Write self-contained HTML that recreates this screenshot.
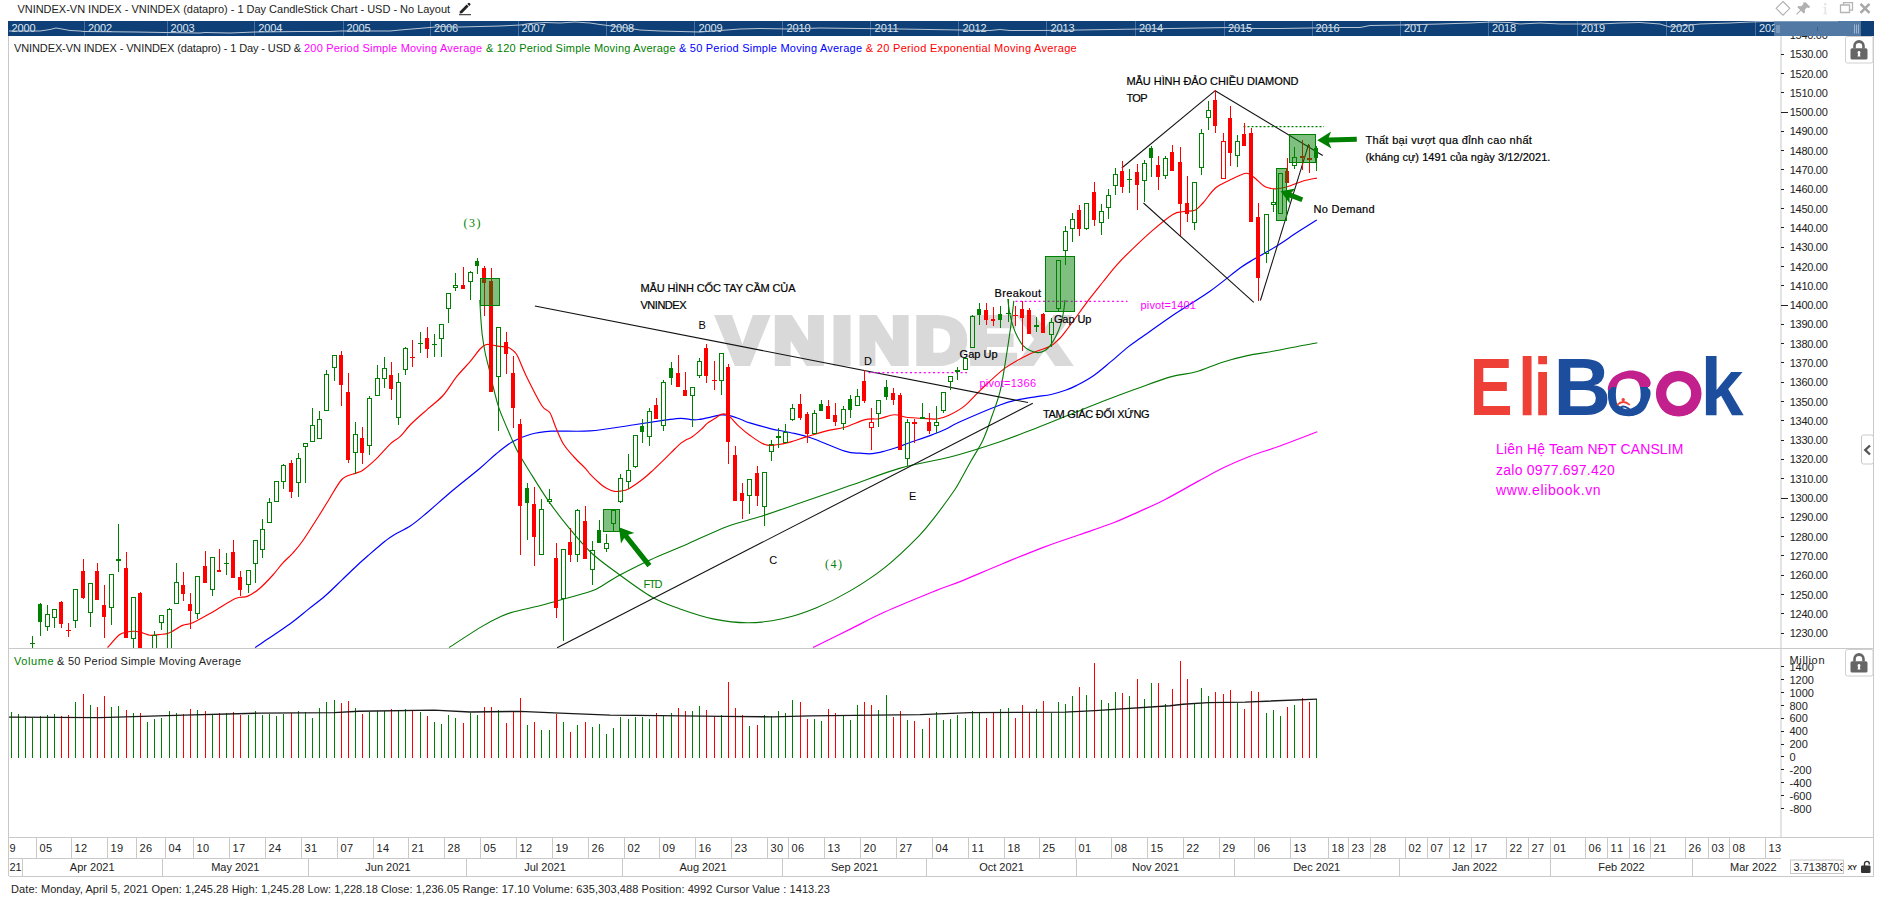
<!DOCTYPE html><html><head><meta charset="utf-8"><title>VNINDEX</title><style>html,body{margin:0;padding:0;background:#fff;overflow:hidden}svg{display:block}</style></head><body><svg width="1877" height="903" viewBox="0 0 1877 903" font-family='"Liberation Sans", sans-serif' font-size="11">
<defs><clipPath id="cp"><rect x="9.5" y="37" width="1771" height="611"/></clipPath><linearGradient id="og" gradientUnits="userSpaceOnUse" x1="0" y1="370" x2="0" y2="417"><stop offset="0.36" stop-color="#c2208c"/><stop offset="0.36" stop-color="#1c4e9d"/></linearGradient><clipPath id="cv"><rect x="9.5" y="649" width="1771" height="188"/></clipPath></defs>
<rect width="1877" height="903" fill="#fff"/>
<text x="17.4" y="13.3" fill="#222" textLength="432.7" lengthAdjust="spacing">VNINDEX-VN INDEX - VNINDEX (datapro) - 1 Day CandleStick Chart - USD - No Layout</text>
<g transform="translate(459,2)" fill="#222"><path d="M1 9.2 L7.6 2.6 L9.6 4.6 L3 11.2 L0.6 11.6 Z"/><path d="M8.3 1.9 L9.3 0.9 Q9.9 0.4 10.5 0.9 L11.3 1.7 Q11.8 2.3 11.3 2.9 L10.3 3.9 Z"/><rect x="0" y="12.2" width="12" height="1"/></g>
<g fill="none" stroke="#b4b4b4" stroke-width="1.2">
<path d="M1783 1.5 L1789.8 8.3 L1783 15.1 L1776.2 8.3 Z"/>
<path d="M1840.5 5 h9 v7.5 h-9z M1843.5 5 v-2.3 h9 v7.5 h-3" stroke-width="1.3"/>
<path d="M1860.5 3.8 L1869.5 12.8 M1869.5 3.8 L1860.5 12.8" stroke-width="2.6" stroke="#a8a8a8"/>
</g>
<g fill="#b0b0b0"><path d="M1805.5 2.2 L1810.3 7 L1808.6 7.9 L1806.9 7.6 L1804.8 9.7 L1805 12.6 L1803.8 13.6 L1801 10.8 L1797 14.8 L1796.2 14 L1800.2 10 L1797.4 7.2 L1798.4 6 L1801.3 6.2 L1803.4 4.1 L1803.1 2.4 Z"/></g>
<g fill="#e4e4e4"><circle cx="1825.3" cy="4.2" r="1.3"/><path d="M1823.5 7 h2.6 v6.2 h1 v1 h-3.8 v-1 h1.2 v-5.2 h-1z"/></g>
<rect x="8" y="21" width="1866" height="15" fill="#0e3f76"/>
<rect x="1774" y="21" width="87" height="15" fill="#5179a3"/>
<rect x="1774" y="21" width="64" height="1" fill="#7d9cbd"/>
<rect x="84" y="21" width="1" height="15" fill="#4a6f9b"/>
<rect x="167" y="21" width="1" height="15" fill="#4a6f9b"/>
<rect x="254" y="21" width="1" height="15" fill="#4a6f9b"/>
<rect x="343" y="21" width="1" height="15" fill="#4a6f9b"/>
<rect x="430" y="21" width="1" height="15" fill="#4a6f9b"/>
<rect x="518" y="21" width="1" height="15" fill="#4a6f9b"/>
<rect x="606" y="21" width="1" height="15" fill="#4a6f9b"/>
<rect x="694" y="21" width="1" height="15" fill="#4a6f9b"/>
<rect x="782" y="21" width="1" height="15" fill="#4a6f9b"/>
<rect x="870" y="21" width="1" height="15" fill="#4a6f9b"/>
<rect x="958" y="21" width="1" height="15" fill="#4a6f9b"/>
<rect x="1046" y="21" width="1" height="15" fill="#4a6f9b"/>
<rect x="1135" y="21" width="1" height="15" fill="#4a6f9b"/>
<rect x="1224" y="21" width="1" height="15" fill="#4a6f9b"/>
<rect x="1312" y="21" width="1" height="15" fill="#4a6f9b"/>
<rect x="1400" y="21" width="1" height="15" fill="#4a6f9b"/>
<rect x="1488" y="21" width="1" height="15" fill="#4a6f9b"/>
<rect x="1577" y="21" width="1" height="15" fill="#4a6f9b"/>
<rect x="1666" y="21" width="1" height="15" fill="#4a6f9b"/>
<rect x="1755" y="21" width="1" height="15" fill="#4a6f9b"/>
<text x="11.5" y="31.9" fill="#dfe7f0" textLength="24.0" lengthAdjust="spacing">2000</text>
<text x="88.0" y="31.9" fill="#dfe7f0" textLength="24.0" lengthAdjust="spacing">2002</text>
<text x="170.5" y="31.9" fill="#dfe7f0" textLength="24.0" lengthAdjust="spacing">2003</text>
<text x="258.3" y="31.9" fill="#dfe7f0" textLength="24.0" lengthAdjust="spacing">2004</text>
<text x="346.5" y="31.9" fill="#dfe7f0" textLength="24.0" lengthAdjust="spacing">2005</text>
<text x="434.0" y="31.9" fill="#dfe7f0" textLength="24.0" lengthAdjust="spacing">2006</text>
<text x="521.5" y="31.9" fill="#dfe7f0" textLength="24.0" lengthAdjust="spacing">2007</text>
<text x="610.0" y="31.9" fill="#dfe7f0" textLength="24.0" lengthAdjust="spacing">2008</text>
<text x="698.5" y="31.9" fill="#dfe7f0" textLength="24.0" lengthAdjust="spacing">2009</text>
<text x="786.5" y="31.9" fill="#dfe7f0" textLength="24.0" lengthAdjust="spacing">2010</text>
<text x="874.5" y="31.9" fill="#dfe7f0" textLength="24.0" lengthAdjust="spacing">2011</text>
<text x="962.5" y="31.9" fill="#dfe7f0" textLength="24.0" lengthAdjust="spacing">2012</text>
<text x="1050.5" y="31.9" fill="#dfe7f0" textLength="24.0" lengthAdjust="spacing">2013</text>
<text x="1139.0" y="31.9" fill="#dfe7f0" textLength="24.0" lengthAdjust="spacing">2014</text>
<text x="1228.0" y="31.9" fill="#dfe7f0" textLength="24.0" lengthAdjust="spacing">2015</text>
<text x="1315.6" y="31.9" fill="#dfe7f0" textLength="24.0" lengthAdjust="spacing">2016</text>
<text x="1404.0" y="31.9" fill="#dfe7f0" textLength="24.0" lengthAdjust="spacing">2017</text>
<text x="1492.0" y="31.9" fill="#dfe7f0" textLength="24.0" lengthAdjust="spacing">2018</text>
<text x="1581.0" y="31.9" fill="#dfe7f0" textLength="24.0" lengthAdjust="spacing">2019</text>
<text x="1670.0" y="31.9" fill="#dfe7f0" textLength="24.0" lengthAdjust="spacing">2020</text>
<clipPath id="c21"><rect x="1750" y="21" width="24.5" height="15"/></clipPath>
<text x="1759.0" y="31.9" fill="#dfe7f0" textLength="24.0" lengthAdjust="spacing" clip-path="url(#c21)">2021</text>
<polyline fill="none" stroke="#b9c6d6" stroke-width="1" points="9,31 40,31 50,29.5 56,28 62,29 70,30.5 80,31 84,31.5 135,32 165,32.5 200,33 205,32.5 230,33 255,32 300,31.5 330,31.5 340,31 390,31 400,30 430,27.5 440,26.5 460,27 480,26.5 500,26 520,25 530,23.5 545,22.5 560,23 575,22 590,23 600,24.5 620,27 640,30 660,31 700,32 720,30.5 740,29 760,28.5 790,29 820,28 860,28.5 900,29 930,29.5 960,30 990,30.5 1000,29.5 1010,30.5 1040,30.5 1080,30 1140,29 1170,28.5 1200,28 1230,27.5 1250,28.5 1280,28.5 1310,28 1340,27.5 1360,27.5 1370,25.5 1400,25 1440,24 1470,23 1490,22 1510,22.5 1520,24 1540,23 1560,24 1600,24 1620,23 1640,22.5 1660,24 1670,27 1680,26 1700,24 1730,23 1750,22 1765,21.5 1774,21.5"/>
<rect x="1776.5" y="25" width="1" height="8" fill="#9fb6ce"/>
<rect x="1778.5" y="25" width="1" height="8" fill="#9fb6ce"/>
<rect x="1854" y="24.5" width="1" height="9" fill="#9fb6ce"/>
<rect x="1856" y="24.5" width="1" height="9" fill="#9fb6ce"/>
<rect x="1858" y="24.5" width="1" height="9" fill="#9fb6ce"/>
<rect x="1817" y="27" width="1" height="4" fill="#3b5f8a"/>
<g fill="#c9c9c9">
<rect x="8" y="36" width="1" height="840"/>
<rect x="1873" y="36" width="1" height="840"/>
<rect x="9" y="648" width="1865" height="1"/>
<rect x="9" y="837" width="1865" height="1"/>
<rect x="9" y="858" width="1772" height="1"/>
<rect x="9" y="876" width="1865" height="1"/>
<rect x="1780.5" y="36" width="1" height="801"/>
</g>
<text x="14.0" y="51.7" fill="#222" textLength="287.0" lengthAdjust="spacing">VNINDEX-VN INDEX - VNINDEX (datapro) - 1 Day - USD &amp;</text>
<text x="304.0" y="51.7" fill="#ff00ff" textLength="178.0" lengthAdjust="spacing">200 Period Simple Moving Average</text>
<text x="486.0" y="51.7" fill="#008000" textLength="189.5" lengthAdjust="spacing">&amp; 120 Period Simple Moving Average</text>
<text x="679.0" y="51.7" fill="#0000ff" textLength="183.0" lengthAdjust="spacing">&amp; 50 Period Simple Moving Average</text>
<text x="865.8" y="51.7" fill="#ff0000" textLength="210.9" lengthAdjust="spacing">&amp; 20 Period Exponential Moving Average</text>
<text transform="translate(0,362.6) scale(1.127,1)" x="637.4 686.1 738.2 761.4 811.6 859.4 905.2" y="0" fill="#d9d9d9" stroke="#d9d9d9" stroke-width="5.8" stroke-linejoin="miter" font-size="64.2" font-weight="bold">VNINDEX</text>
<g clip-path="url(#cp)">
<path d="M813.0 647.5C819.4 644.4 839.3 634.5 851.3 628.6C863.2 622.7 870.6 618.3 884.7 612.0C898.8 605.7 923.4 595.7 935.9 590.6C948.4 585.5 948.9 586.1 960.0 581.6C971.1 577.1 988.4 569.5 1002.6 563.7C1016.8 557.9 1032.5 551.4 1045.3 546.6C1058.1 541.8 1068.0 538.7 1079.4 534.7C1090.8 530.7 1103.5 526.6 1113.5 522.7C1123.5 518.9 1130.6 515.4 1139.1 511.6C1147.6 507.8 1154.8 504.8 1164.7 499.7C1174.7 494.6 1188.8 486.3 1198.8 480.9C1208.8 475.5 1215.9 471.4 1224.4 467.3C1232.9 463.2 1240.7 459.8 1250.0 456.2C1259.3 452.6 1268.8 450.1 1280.0 446.0C1291.2 441.9 1311.1 434.2 1317.3 431.8" fill="none" stroke="#ff00ff" stroke-width="1.2"/>
<path d="M449.2 647.5C454.3 644.2 471.4 632.8 480.0 627.6C488.6 622.4 495.1 619.1 500.8 616.5C506.5 613.9 507.5 613.5 514.0 611.7C520.5 609.9 532.6 607.6 539.7 605.8C546.8 604.0 548.3 603.4 556.8 601.0C565.3 598.6 582.9 594.1 590.9 591.3C598.9 588.5 600.2 586.7 605.0 584.0C609.8 581.3 612.3 579.0 619.9 575.0C627.5 571.0 639.8 564.7 650.6 559.7C661.4 554.7 671.9 550.8 684.7 545.2C697.5 539.7 714.5 531.2 727.3 526.4C740.1 521.6 749.4 520.1 761.5 516.2C773.6 512.3 785.2 508.0 800.0 502.9C814.8 497.8 833.3 491.4 850.0 485.6C866.7 479.8 883.5 472.9 900.2 468.1C916.9 463.3 933.6 461.4 950.2 457.0C966.8 452.6 986.0 446.4 1000.0 441.7C1014.0 437.0 1022.7 433.3 1034.1 428.9C1045.5 424.5 1056.8 419.9 1068.2 415.3C1079.6 410.8 1090.9 406.0 1102.3 401.6C1113.7 397.2 1125.1 392.9 1136.5 388.8C1147.9 384.7 1160.6 379.7 1170.6 376.9C1180.5 374.1 1187.7 374.2 1196.2 371.8C1204.7 369.4 1213.2 365.1 1221.7 362.4C1230.2 359.7 1238.8 357.5 1247.3 355.6C1255.8 353.8 1264.4 352.9 1272.9 351.3C1281.4 349.7 1291.1 347.6 1298.5 346.2C1305.9 344.8 1314.2 343.4 1317.3 342.8" fill="none" stroke="#057805" stroke-width="1.1"/>
<path d="M255.0 647.5C255.9 646.9 254.5 648.1 260.5 644.0C266.5 639.9 283.2 628.8 291.2 623.0C299.1 617.2 302.5 613.9 308.2 609.4C313.9 604.9 319.6 600.8 325.3 595.8C331.0 590.8 336.6 585.0 342.3 579.6C348.0 574.2 355.1 567.3 359.4 563.3C363.7 559.3 363.6 559.4 367.9 555.7C372.2 552.0 380.7 544.6 385.0 541.2C389.3 537.8 389.2 537.8 393.5 535.2C397.8 532.6 404.9 529.6 410.6 525.8C416.3 522.0 420.5 518.2 427.6 512.2C434.7 506.2 444.5 497.3 453.2 490.0C461.9 482.7 472.9 474.2 480.0 468.2C487.1 462.2 490.6 458.4 496.0 454.0C501.4 449.6 506.7 445.1 512.4 441.8C518.1 438.6 523.5 436.3 530.0 434.5C536.5 432.7 541.6 431.8 551.6 431.2C561.6 430.6 576.5 431.9 590.0 430.9C603.5 429.9 620.2 426.8 632.6 425.0C645.0 423.2 656.6 421.3 664.6 420.2C672.6 419.1 676.0 418.4 680.6 418.3C685.2 418.2 689.3 419.5 692.3 419.7C695.3 419.9 695.8 419.9 698.7 419.5C701.7 419.1 706.3 418.1 710.0 417.3C713.7 416.5 717.6 415.1 721.1 414.9C724.6 414.6 727.4 415.0 730.7 415.8C734.0 416.6 737.9 418.3 741.1 419.5C744.3 420.7 744.8 421.3 749.8 422.9C754.8 424.4 764.4 427.2 771.1 428.8C777.8 430.4 783.4 431.0 790.0 432.5C796.6 434.0 801.5 434.7 810.6 437.8C819.7 440.9 836.5 448.5 844.7 451.1C852.9 453.7 855.5 452.8 860.0 453.2C864.5 453.6 867.8 454.1 872.0 453.7C876.2 453.3 881.0 452.0 885.0 451.0C889.0 450.0 891.7 449.2 895.9 447.8C900.1 446.4 904.3 444.5 910.0 442.5C915.7 440.5 924.2 437.8 930.0 435.6C935.8 433.4 940.0 431.8 945.0 429.5C950.0 427.2 950.8 425.9 960.0 421.8C969.2 417.7 990.5 408.6 1000.0 405.0C1009.5 401.4 1011.1 401.4 1017.0 400.0C1022.9 398.6 1029.7 397.7 1035.4 396.8C1041.1 395.9 1046.2 395.6 1051.2 394.5C1056.2 393.4 1061.1 391.8 1065.4 390.3C1069.7 388.8 1072.1 387.9 1076.8 385.4C1081.5 382.9 1088.1 379.4 1093.8 375.4C1099.5 371.4 1105.2 366.3 1110.9 361.6C1116.6 356.9 1122.8 351.2 1127.9 347.1C1133.0 343.0 1133.7 342.8 1141.7 337.2C1149.7 331.6 1164.5 321.0 1175.9 313.3C1187.3 305.6 1199.3 298.7 1210.0 291.2C1220.7 283.7 1232.5 273.5 1240.0 268.1C1247.5 262.7 1248.5 262.5 1254.7 258.8C1260.9 255.1 1269.8 250.4 1276.9 246.0C1284.0 241.6 1290.7 236.6 1297.3 232.3C1303.9 228.0 1313.5 222.1 1316.8 220.0" fill="none" stroke="#0000ff" stroke-width="1.2"/>
<path d="M107.5 647.5C109.5 645.4 116.2 637.4 119.4 634.8C122.7 632.2 124.4 632.6 127.0 632.0C129.6 631.4 132.1 631.1 134.8 631.3C137.5 631.5 140.4 632.3 143.0 633.0C145.6 633.7 147.3 635.0 150.1 635.3C152.9 635.5 156.9 634.9 160.0 634.5C163.1 634.1 165.2 634.5 168.9 633.0C172.7 631.5 178.5 627.1 182.5 625.4C186.5 623.7 187.7 625.1 192.8 622.8C197.9 620.5 206.1 615.7 213.2 611.7C220.3 607.7 229.7 601.2 235.4 598.6C241.1 596.0 243.3 598.0 247.3 596.4C251.3 594.8 255.0 592.3 259.3 588.7C263.6 585.1 269.0 579.3 272.9 575.0C276.8 570.7 279.3 566.8 282.7 563.1C286.1 559.4 289.6 556.6 293.0 552.8C296.4 548.9 298.8 546.5 303.3 540.0C307.8 533.5 315.8 520.7 320.0 514.0C324.2 507.3 325.0 505.8 328.7 500.0C332.4 494.2 337.8 483.5 342.3 479.0C346.9 474.5 352.6 474.6 356.0 473.1C359.4 471.6 359.4 472.6 362.8 470.2C366.2 467.8 371.9 463.0 376.5 458.6C381.1 454.2 386.1 447.8 390.1 444.1C394.1 440.4 396.9 439.7 400.3 436.4C403.7 433.1 406.1 429.1 410.6 424.5C415.2 419.9 422.2 413.9 427.6 409.1C433.0 404.3 438.2 400.9 443.0 395.5C447.8 390.1 452.1 382.4 456.6 376.7C461.2 371.0 466.4 366.0 470.3 361.4C474.2 356.8 477.4 351.8 480.0 349.0C482.6 346.2 483.8 345.4 485.8 344.7C487.8 344.0 489.7 344.7 492.0 345.0C494.3 345.3 497.0 346.1 499.4 346.4C501.8 346.7 504.2 346.5 506.1 346.9C508.0 347.3 509.6 348.1 511.0 349.0C512.4 349.9 513.4 350.7 514.6 352.0C515.8 353.3 516.0 352.9 518.0 357.0C520.0 361.1 522.6 368.6 526.6 376.7C530.6 384.8 538.0 399.7 541.9 405.7C545.8 411.7 547.5 409.1 549.9 412.8C552.2 416.5 553.7 422.8 556.0 428.0C558.3 433.2 560.6 439.5 563.6 444.3C566.6 449.1 570.3 452.9 574.0 457.0C577.7 461.1 583.1 465.9 585.8 468.8C588.5 471.7 587.5 471.5 590.0 474.1C592.5 476.7 597.9 481.8 600.7 484.2C603.5 486.6 604.7 487.3 607.0 488.5C609.3 489.7 612.2 491.0 614.5 491.4C616.8 491.8 618.7 491.4 621.0 491.0C623.3 490.6 624.7 491.0 628.4 489.0C632.1 487.0 639.0 482.1 643.3 478.8C647.5 475.5 650.3 472.6 653.9 469.3C657.5 466.0 661.0 462.6 664.6 459.1C668.2 455.6 672.4 451.2 675.2 448.5C678.0 445.8 679.8 444.0 681.6 442.6C683.4 441.2 684.1 441.0 685.9 440.0C687.7 439.0 689.6 438.7 692.3 436.8C695.0 434.9 699.4 431.0 701.9 428.8C704.4 426.6 705.1 425.1 707.2 423.4C709.3 421.7 712.4 420.1 714.7 418.6C717.0 417.1 719.2 415.1 721.1 414.4C723.0 413.7 724.3 413.7 725.9 414.2C727.5 414.7 728.5 415.5 730.7 417.6C732.9 419.7 736.0 423.7 739.2 426.6C742.4 429.5 745.5 432.2 749.8 435.2C754.0 438.2 760.2 442.9 764.7 444.5C769.2 446.1 772.3 445.2 776.5 444.8C780.7 444.4 784.9 443.5 790.0 442.1C795.1 440.7 800.9 438.5 807.2 436.6C813.5 434.7 821.4 432.2 827.6 430.6C833.9 429.0 838.4 429.0 844.7 427.2C851.0 425.4 859.5 421.0 865.2 419.6C870.9 418.2 874.0 419.5 878.8 418.7C883.6 417.9 889.7 415.0 894.2 414.8C898.8 414.6 901.6 416.7 906.1 417.3C910.6 417.9 916.3 417.9 921.4 418.2C926.5 418.5 932.2 419.5 936.8 419.0C941.4 418.5 944.3 417.4 949.0 415.2C953.7 413.0 959.7 409.9 965.0 405.6C970.3 401.3 974.3 395.9 981.0 389.6C987.7 383.3 997.3 373.8 1005.3 367.9C1013.3 362.0 1021.8 357.9 1029.2 354.3C1036.6 350.8 1044.8 349.0 1049.6 346.6C1054.4 344.2 1055.4 342.4 1058.0 340.0C1060.6 337.6 1059.8 338.8 1065.0 332.1C1070.2 325.4 1082.5 308.2 1088.9 299.7C1095.4 291.2 1099.2 286.7 1103.7 281.0C1108.2 275.3 1112.1 270.3 1116.2 265.6C1120.3 260.9 1122.5 258.6 1128.5 252.8C1134.5 247.0 1144.9 237.0 1152.3 230.6C1159.7 224.2 1167.5 217.6 1172.8 214.4C1178.1 211.2 1180.3 212.2 1184.0 211.5C1187.7 210.8 1191.8 211.6 1195.0 210.2C1198.2 208.8 1199.6 206.7 1203.0 203.0C1206.4 199.3 1211.0 191.8 1215.5 188.0C1220.0 184.2 1225.2 182.4 1230.0 180.0C1234.8 177.6 1241.1 174.4 1244.5 173.5C1247.9 172.6 1248.5 173.8 1250.4 174.7C1252.3 175.6 1253.9 177.2 1256.0 179.0C1258.1 180.8 1261.0 183.9 1263.2 185.4C1265.4 186.9 1267.0 187.4 1269.0 188.0C1271.0 188.6 1273.0 188.8 1275.2 188.8C1277.4 188.8 1279.7 188.4 1282.0 188.0C1284.3 187.6 1285.4 187.4 1288.8 186.3C1292.2 185.2 1297.8 182.6 1302.5 181.2C1307.2 179.8 1314.4 178.6 1316.8 178.1" fill="none" stroke="#ff0000" stroke-width="1.15"/>
<path d="M479.8 300.0C480.0 303.0 480.4 312.1 480.8 318.0C481.2 323.9 481.6 329.6 482.3 335.3C483.0 341.0 483.9 346.3 485.0 352.0C486.1 357.7 487.8 363.4 489.2 369.4C490.6 375.4 491.8 381.4 493.5 388.0C495.2 394.6 496.1 400.2 499.3 409.1C502.5 418.0 509.6 433.9 512.9 441.5C516.2 449.1 516.4 449.5 519.2 454.6C522.1 459.7 525.2 464.5 530.0 472.2C534.8 479.9 541.5 491.0 548.2 500.6C554.9 510.2 563.0 520.7 570.4 529.6C577.8 538.5 584.4 546.4 592.6 554.0C600.9 561.6 610.0 567.8 619.9 575.0C629.8 582.2 642.3 591.6 652.3 597.2C662.3 602.9 669.7 605.2 680.0 608.9C690.3 612.5 702.7 616.8 714.1 619.1C725.5 621.4 736.8 622.8 748.2 622.7C759.6 622.7 770.9 621.3 782.3 618.8C793.7 616.3 805.1 612.4 816.5 607.7C827.9 603.0 839.2 597.3 850.6 590.6C862.0 583.9 873.3 576.7 884.7 567.6C896.1 558.5 910.3 544.8 918.8 536.1C927.3 527.4 929.9 523.3 935.9 515.6C941.9 507.9 950.6 495.8 954.6 490.0C958.6 484.2 957.3 485.7 960.0 480.9C962.7 476.1 967.2 467.8 971.0 461.0C974.8 454.2 979.5 447.5 983.0 440.0C986.5 432.5 989.2 424.1 992.0 416.0C994.8 407.9 997.7 401.1 1000.0 391.7C1002.3 382.3 1004.0 370.5 1005.8 359.4C1007.6 348.3 1009.6 335.1 1010.9 325.3C1012.2 315.6 1013.3 305.0 1013.8 300.9" fill="none" stroke="#057805" stroke-width="1.1"/>
<path d="M1007.8 299.0C1008.1 301.2 1008.7 307.6 1009.5 312.0C1010.3 316.4 1011.5 321.4 1012.8 325.4C1014.0 329.4 1015.3 332.7 1017.0 336.0C1018.7 339.3 1020.6 343.0 1022.8 345.4C1025.0 347.8 1027.5 349.3 1030.0 350.5C1032.5 351.7 1035.2 352.6 1037.7 352.6C1040.2 352.6 1042.9 351.7 1045.0 350.5C1047.1 349.3 1048.6 347.8 1050.4 345.4C1052.2 343.0 1054.3 339.3 1056.0 336.0C1057.7 332.7 1059.2 329.4 1060.4 325.4C1061.7 321.4 1062.7 316.2 1063.5 312.0C1064.3 307.8 1064.8 302.0 1065.0 300.0" fill="none" stroke="#057805" stroke-width="1.1"/>
<line x1="534.9" y1="306" x2="1028.1" y2="402.6" stroke="#111" stroke-width="1.05"/>
<line x1="557.1" y1="647.8" x2="1032.8" y2="403.3" stroke="#111" stroke-width="1.05"/>
<line x1="1121.8" y1="168" x2="1215.2" y2="90.7" stroke="#111" stroke-width="1.05"/>
<line x1="1215.2" y1="90.7" x2="1322.7" y2="155.5" stroke="#111" stroke-width="1.05"/>
<line x1="1143.5" y1="203" x2="1253.8" y2="302.3" stroke="#111" stroke-width="1.05"/>
<line x1="1260.4" y1="300.5" x2="1308.7" y2="144.2" stroke="#111" stroke-width="1.05"/>
<line x1="868.6" y1="372.7" x2="967" y2="372.7" stroke="#ff00ff" stroke-width="1.2" stroke-dasharray="2 2.6"/>
<line x1="1015.5" y1="301.4" x2="1127.5" y2="301.4" stroke="#ff00ff" stroke-width="1.2" stroke-dasharray="2 2.6"/>
<line x1="1243.5" y1="126.6" x2="1324" y2="126.6" stroke="#008000" stroke-width="1.1" stroke-dasharray="2 2"/>
<g shape-rendering="crispEdges">
<rect x="32" y="636" width="1" height="18" fill="#008000"/>
<rect x="30" y="643" width="5" height="1" fill="#008000"/>
<rect x="40" y="603" width="1" height="33" fill="#008000"/>
<rect x="38" y="604" width="4" height="18" fill="#008000"/>
<rect x="47" y="605" width="1" height="9" fill="#008000"/>
<rect x="47" y="627" width="1" height="4" fill="#008000"/>
<rect x="45.5" y="614.5" width="4" height="12" fill="#fff" fill-opacity="0" stroke="#008000" stroke-width="1"/>
<rect x="54" y="609" width="1" height="0" fill="#008000"/>
<rect x="54" y="618" width="1" height="10" fill="#008000"/>
<rect x="52.5" y="609.5" width="4" height="8" fill="#fff" fill-opacity="0" stroke="#008000" stroke-width="1"/>
<rect x="61" y="601" width="1" height="27" fill="#ff0000"/>
<rect x="59" y="602" width="4" height="22" fill="#ff0000"/>
<rect x="68" y="623" width="1" height="14" fill="#ff0000"/>
<rect x="66" y="630" width="5" height="1" fill="#ff0000"/>
<rect x="75" y="589" width="1" height="0" fill="#008000"/>
<rect x="75" y="621" width="1" height="7" fill="#008000"/>
<rect x="73.5" y="589.5" width="4" height="31" fill="#fff" fill-opacity="0" stroke="#008000" stroke-width="1"/>
<rect x="83" y="559" width="1" height="40" fill="#ff0000"/>
<rect x="81" y="571" width="4" height="27" fill="#ff0000"/>
<rect x="90" y="583" width="1" height="0" fill="#008000"/>
<rect x="90" y="613" width="1" height="14" fill="#008000"/>
<rect x="88.5" y="583.5" width="4" height="29" fill="#fff" fill-opacity="0" stroke="#008000" stroke-width="1"/>
<rect x="97" y="563" width="1" height="37" fill="#ff0000"/>
<rect x="95" y="571" width="4" height="29" fill="#ff0000"/>
<rect x="104" y="585" width="1" height="53" fill="#ff0000"/>
<rect x="102" y="605" width="4" height="12" fill="#ff0000"/>
<rect x="111" y="574" width="1" height="0" fill="#008000"/>
<rect x="111" y="608" width="1" height="17" fill="#008000"/>
<rect x="109.5" y="574.5" width="4" height="33" fill="#fff" fill-opacity="0" stroke="#008000" stroke-width="1"/>
<rect x="118" y="524" width="1" height="48" fill="#008000"/>
<rect x="116" y="559" width="5" height="2" fill="#008000"/>
<rect x="126" y="552" width="1" height="86" fill="#ff0000"/>
<rect x="124" y="568" width="4" height="70" fill="#ff0000"/>
<rect x="133" y="597" width="1" height="0" fill="#008000"/>
<rect x="133" y="639" width="1" height="15" fill="#008000"/>
<rect x="131.5" y="597.5" width="4" height="41" fill="#fff" fill-opacity="0" stroke="#008000" stroke-width="1"/>
<rect x="140" y="592" width="1" height="62" fill="#ff0000"/>
<rect x="138" y="593" width="4" height="61" fill="#ff0000"/>
<rect x="154" y="631" width="1" height="4" fill="#008000"/>
<rect x="154" y="654" width="1" height="0" fill="#008000"/>
<rect x="152.5" y="635.5" width="4" height="18" fill="#fff" fill-opacity="0" stroke="#008000" stroke-width="1"/>
<rect x="161" y="615" width="1" height="0" fill="#008000"/>
<rect x="161" y="623" width="1" height="7" fill="#008000"/>
<rect x="159.5" y="615.5" width="4" height="7" fill="#fff" fill-opacity="0" stroke="#008000" stroke-width="1"/>
<rect x="169" y="608" width="1" height="1" fill="#008000"/>
<rect x="169" y="654" width="1" height="0" fill="#008000"/>
<rect x="167.5" y="609.5" width="4" height="44" fill="#fff" fill-opacity="0" stroke="#008000" stroke-width="1"/>
<rect x="176" y="563" width="1" height="19" fill="#008000"/>
<rect x="176" y="604" width="1" height="0" fill="#008000"/>
<rect x="174.5" y="582.5" width="4" height="21" fill="#fff" fill-opacity="0" stroke="#008000" stroke-width="1"/>
<rect x="183" y="572" width="1" height="29" fill="#ff0000"/>
<rect x="181" y="585" width="4" height="9" fill="#ff0000"/>
<rect x="190" y="593" width="1" height="36" fill="#ff0000"/>
<rect x="188" y="604" width="4" height="7" fill="#ff0000"/>
<rect x="197" y="576" width="1" height="0" fill="#008000"/>
<rect x="197" y="614" width="1" height="5" fill="#008000"/>
<rect x="195.5" y="576.5" width="4" height="37" fill="#fff" fill-opacity="0" stroke="#008000" stroke-width="1"/>
<rect x="205" y="551" width="1" height="32" fill="#ff0000"/>
<rect x="203" y="566" width="4" height="17" fill="#ff0000"/>
<rect x="212" y="557" width="1" height="0" fill="#008000"/>
<rect x="212" y="590" width="1" height="6" fill="#008000"/>
<rect x="210.5" y="557.5" width="4" height="32" fill="#fff" fill-opacity="0" stroke="#008000" stroke-width="1"/>
<rect x="219" y="549" width="1" height="23" fill="#ff0000"/>
<rect x="217" y="570" width="4" height="2" fill="#ff0000"/>
<rect x="226" y="553" width="1" height="22" fill="#008000"/>
<rect x="224" y="563" width="5" height="1" fill="#008000"/>
<rect x="233" y="540" width="1" height="38" fill="#ff0000"/>
<rect x="231" y="552" width="4" height="26" fill="#ff0000"/>
<rect x="240" y="571" width="1" height="25" fill="#ff0000"/>
<rect x="238" y="577" width="4" height="13" fill="#ff0000"/>
<rect x="248" y="570" width="1" height="0" fill="#008000"/>
<rect x="248" y="585" width="1" height="8" fill="#008000"/>
<rect x="246.5" y="570.5" width="4" height="14" fill="#fff" fill-opacity="0" stroke="#008000" stroke-width="1"/>
<rect x="255" y="540" width="1" height="0" fill="#008000"/>
<rect x="255" y="564" width="1" height="19" fill="#008000"/>
<rect x="253.5" y="540.5" width="4" height="23" fill="#fff" fill-opacity="0" stroke="#008000" stroke-width="1"/>
<rect x="262" y="519" width="1" height="10" fill="#008000"/>
<rect x="262" y="550" width="1" height="8" fill="#008000"/>
<rect x="260.5" y="529.5" width="4" height="20" fill="#fff" fill-opacity="0" stroke="#008000" stroke-width="1"/>
<rect x="269" y="498" width="1" height="4" fill="#008000"/>
<rect x="269" y="523" width="1" height="0" fill="#008000"/>
<rect x="267.5" y="502.5" width="4" height="20" fill="#fff" fill-opacity="0" stroke="#008000" stroke-width="1"/>
<rect x="276" y="481" width="1" height="0" fill="#008000"/>
<rect x="276" y="502" width="1" height="0" fill="#008000"/>
<rect x="274.5" y="481.5" width="4" height="20" fill="#fff" fill-opacity="0" stroke="#008000" stroke-width="1"/>
<rect x="283" y="464" width="1" height="1" fill="#008000"/>
<rect x="283" y="482" width="1" height="7" fill="#008000"/>
<rect x="281.5" y="465.5" width="4" height="16" fill="#fff" fill-opacity="0" stroke="#008000" stroke-width="1"/>
<rect x="291" y="460" width="1" height="38" fill="#ff0000"/>
<rect x="289" y="463" width="4" height="29" fill="#ff0000"/>
<rect x="298" y="453" width="1" height="5" fill="#008000"/>
<rect x="298" y="483" width="1" height="14" fill="#008000"/>
<rect x="296.5" y="458.5" width="4" height="24" fill="#fff" fill-opacity="0" stroke="#008000" stroke-width="1"/>
<rect x="305" y="443" width="1" height="0" fill="#008000"/>
<rect x="305" y="447" width="1" height="36" fill="#008000"/>
<rect x="303.5" y="443.5" width="4" height="3" fill="#fff" fill-opacity="0" stroke="#008000" stroke-width="1"/>
<rect x="312" y="408" width="1" height="17" fill="#008000"/>
<rect x="312" y="442" width="1" height="0" fill="#008000"/>
<rect x="310.5" y="425.5" width="4" height="16" fill="#fff" fill-opacity="0" stroke="#008000" stroke-width="1"/>
<rect x="319" y="411" width="1" height="8" fill="#008000"/>
<rect x="319" y="439" width="1" height="0" fill="#008000"/>
<rect x="317.5" y="419.5" width="4" height="19" fill="#fff" fill-opacity="0" stroke="#008000" stroke-width="1"/>
<rect x="326" y="370" width="1" height="4" fill="#008000"/>
<rect x="326" y="411" width="1" height="0" fill="#008000"/>
<rect x="324.5" y="374.5" width="4" height="36" fill="#fff" fill-opacity="0" stroke="#008000" stroke-width="1"/>
<rect x="334" y="355" width="1" height="0" fill="#008000"/>
<rect x="334" y="368" width="1" height="13" fill="#008000"/>
<rect x="332.5" y="355.5" width="4" height="12" fill="#fff" fill-opacity="0" stroke="#008000" stroke-width="1"/>
<rect x="341" y="351" width="1" height="55" fill="#ff0000"/>
<rect x="339" y="355" width="4" height="30" fill="#ff0000"/>
<rect x="348" y="373" width="1" height="90" fill="#ff0000"/>
<rect x="346" y="392" width="4" height="68" fill="#ff0000"/>
<rect x="355" y="422" width="1" height="12" fill="#008000"/>
<rect x="355" y="453" width="1" height="21" fill="#008000"/>
<rect x="353.5" y="434.5" width="4" height="18" fill="#fff" fill-opacity="0" stroke="#008000" stroke-width="1"/>
<rect x="362" y="427" width="1" height="37" fill="#ff0000"/>
<rect x="360" y="438" width="4" height="15" fill="#ff0000"/>
<rect x="369" y="396" width="1" height="2" fill="#008000"/>
<rect x="369" y="446" width="1" height="9" fill="#008000"/>
<rect x="367.5" y="398.5" width="4" height="47" fill="#fff" fill-opacity="0" stroke="#008000" stroke-width="1"/>
<rect x="377" y="365" width="1" height="13" fill="#008000"/>
<rect x="377" y="396" width="1" height="0" fill="#008000"/>
<rect x="375.5" y="378.5" width="4" height="17" fill="#fff" fill-opacity="0" stroke="#008000" stroke-width="1"/>
<rect x="384" y="357" width="1" height="11" fill="#008000"/>
<rect x="384" y="379" width="1" height="9" fill="#008000"/>
<rect x="382.5" y="368.5" width="4" height="10" fill="#fff" fill-opacity="0" stroke="#008000" stroke-width="1"/>
<rect x="391" y="362" width="1" height="38" fill="#ff0000"/>
<rect x="389" y="375" width="4" height="14" fill="#ff0000"/>
<rect x="398" y="373" width="1" height="9" fill="#008000"/>
<rect x="398" y="418" width="1" height="7" fill="#008000"/>
<rect x="396.5" y="382.5" width="4" height="35" fill="#fff" fill-opacity="0" stroke="#008000" stroke-width="1"/>
<rect x="405" y="347" width="1" height="1" fill="#008000"/>
<rect x="405" y="370" width="1" height="5" fill="#008000"/>
<rect x="403.5" y="348.5" width="4" height="21" fill="#fff" fill-opacity="0" stroke="#008000" stroke-width="1"/>
<rect x="412" y="340" width="1" height="27" fill="#ff0000"/>
<rect x="410" y="357" width="5" height="1" fill="#ff0000"/>
<rect x="420" y="332" width="1" height="21" fill="#008000"/>
<rect x="418" y="343" width="5" height="1" fill="#008000"/>
<rect x="427" y="327" width="1" height="31" fill="#ff0000"/>
<rect x="425" y="338" width="4" height="11" fill="#ff0000"/>
<rect x="434" y="334" width="1" height="23" fill="#008000"/>
<rect x="432" y="344" width="5" height="1" fill="#008000"/>
<rect x="441" y="324" width="1" height="0" fill="#008000"/>
<rect x="441" y="339" width="1" height="18" fill="#008000"/>
<rect x="439.5" y="324.5" width="4" height="14" fill="#fff" fill-opacity="0" stroke="#008000" stroke-width="1"/>
<rect x="448" y="293" width="1" height="0" fill="#008000"/>
<rect x="448" y="309" width="1" height="14" fill="#008000"/>
<rect x="446.5" y="293.5" width="4" height="15" fill="#fff" fill-opacity="0" stroke="#008000" stroke-width="1"/>
<rect x="455" y="273" width="1" height="12" fill="#008000"/>
<rect x="455" y="288" width="1" height="3" fill="#008000"/>
<rect x="453.5" y="285.5" width="4" height="2" fill="#fff" fill-opacity="0" stroke="#008000" stroke-width="1"/>
<rect x="463" y="267" width="1" height="22" fill="#ff0000"/>
<rect x="461" y="285" width="4" height="4" fill="#ff0000"/>
<rect x="470" y="271" width="1" height="1" fill="#008000"/>
<rect x="470" y="282" width="1" height="18" fill="#008000"/>
<rect x="468.5" y="272.5" width="4" height="9" fill="#fff" fill-opacity="0" stroke="#008000" stroke-width="1"/>
<rect x="477" y="258" width="1" height="16" fill="#008000"/>
<rect x="475" y="261" width="4" height="5" fill="#008000"/>
<rect x="484" y="266" width="1" height="50" fill="#ff0000"/>
<rect x="482" y="268" width="4" height="15" fill="#ff0000"/>
<rect x="491" y="268" width="1" height="124" fill="#ff0000"/>
<rect x="489" y="281" width="4" height="111" fill="#ff0000"/>
<rect x="498" y="327" width="1" height="0" fill="#008000"/>
<rect x="498" y="377" width="1" height="54" fill="#008000"/>
<rect x="496.5" y="327.5" width="4" height="49" fill="#fff" fill-opacity="0" stroke="#008000" stroke-width="1"/>
<rect x="506" y="332" width="1" height="42" fill="#ff0000"/>
<rect x="504" y="342" width="4" height="12" fill="#ff0000"/>
<rect x="513" y="356" width="1" height="72" fill="#ff0000"/>
<rect x="511" y="373" width="4" height="35" fill="#ff0000"/>
<rect x="520" y="419" width="1" height="136" fill="#ff0000"/>
<rect x="518" y="424" width="4" height="82" fill="#ff0000"/>
<rect x="527" y="483" width="1" height="57" fill="#008000"/>
<rect x="525" y="488" width="4" height="15" fill="#008000"/>
<rect x="534" y="487" width="1" height="79" fill="#ff0000"/>
<rect x="532" y="504" width="4" height="33" fill="#ff0000"/>
<rect x="541" y="499" width="1" height="10" fill="#008000"/>
<rect x="541" y="555" width="1" height="0" fill="#008000"/>
<rect x="539.5" y="509.5" width="4" height="45" fill="#fff" fill-opacity="0" stroke="#008000" stroke-width="1"/>
<rect x="549" y="489" width="1" height="10" fill="#008000"/>
<rect x="549" y="502" width="1" height="2" fill="#008000"/>
<rect x="547.5" y="499.5" width="4" height="2" fill="#fff" fill-opacity="0" stroke="#008000" stroke-width="1"/>
<rect x="556" y="543" width="1" height="75" fill="#ff0000"/>
<rect x="554" y="558" width="4" height="50" fill="#ff0000"/>
<rect x="563" y="549" width="1" height="0" fill="#008000"/>
<rect x="563" y="599" width="1" height="42" fill="#008000"/>
<rect x="561.5" y="549.5" width="4" height="49" fill="#fff" fill-opacity="0" stroke="#008000" stroke-width="1"/>
<rect x="570" y="528" width="1" height="34" fill="#ff0000"/>
<rect x="568" y="542" width="4" height="13" fill="#ff0000"/>
<rect x="577" y="509" width="1" height="1" fill="#008000"/>
<rect x="577" y="555" width="1" height="7" fill="#008000"/>
<rect x="575.5" y="510.5" width="4" height="44" fill="#fff" fill-opacity="0" stroke="#008000" stroke-width="1"/>
<rect x="585" y="506" width="1" height="53" fill="#ff0000"/>
<rect x="583" y="521" width="4" height="38" fill="#ff0000"/>
<rect x="592" y="541" width="1" height="9" fill="#008000"/>
<rect x="592" y="570" width="1" height="15" fill="#008000"/>
<rect x="590.5" y="550.5" width="4" height="19" fill="#fff" fill-opacity="0" stroke="#008000" stroke-width="1"/>
<rect x="599" y="520" width="1" height="23" fill="#008000"/>
<rect x="597" y="530" width="4" height="13" fill="#008000"/>
<rect x="606" y="534" width="1" height="9" fill="#008000"/>
<rect x="606" y="549" width="1" height="3" fill="#008000"/>
<rect x="604.5" y="543.5" width="4" height="5" fill="#fff" fill-opacity="0" stroke="#008000" stroke-width="1"/>
<rect x="613" y="510" width="1" height="0" fill="#008000"/>
<rect x="613" y="524" width="1" height="7" fill="#008000"/>
<rect x="611.5" y="510.5" width="4" height="13" fill="#fff" fill-opacity="0" stroke="#008000" stroke-width="1"/>
<rect x="620" y="474" width="1" height="4" fill="#008000"/>
<rect x="620" y="502" width="1" height="1" fill="#008000"/>
<rect x="618.5" y="478.5" width="4" height="23" fill="#fff" fill-opacity="0" stroke="#008000" stroke-width="1"/>
<rect x="628" y="454" width="1" height="16" fill="#008000"/>
<rect x="628" y="482" width="1" height="7" fill="#008000"/>
<rect x="626.5" y="470.5" width="4" height="11" fill="#fff" fill-opacity="0" stroke="#008000" stroke-width="1"/>
<rect x="635" y="435" width="1" height="0" fill="#008000"/>
<rect x="635" y="467" width="1" height="1" fill="#008000"/>
<rect x="633.5" y="435.5" width="4" height="31" fill="#fff" fill-opacity="0" stroke="#008000" stroke-width="1"/>
<rect x="642" y="419" width="1" height="24" fill="#008000"/>
<rect x="640" y="426" width="4" height="6" fill="#008000"/>
<rect x="649" y="408" width="1" height="3" fill="#008000"/>
<rect x="649" y="437" width="1" height="9" fill="#008000"/>
<rect x="647.5" y="411.5" width="4" height="25" fill="#fff" fill-opacity="0" stroke="#008000" stroke-width="1"/>
<rect x="656" y="398" width="1" height="21" fill="#ff0000"/>
<rect x="654" y="405" width="4" height="14" fill="#ff0000"/>
<rect x="663" y="380" width="1" height="2" fill="#008000"/>
<rect x="663" y="426" width="1" height="5" fill="#008000"/>
<rect x="661.5" y="382.5" width="4" height="43" fill="#fff" fill-opacity="0" stroke="#008000" stroke-width="1"/>
<rect x="671" y="362" width="1" height="23" fill="#008000"/>
<rect x="669" y="368" width="4" height="10" fill="#008000"/>
<rect x="678" y="355" width="1" height="32" fill="#ff0000"/>
<rect x="676" y="373" width="4" height="14" fill="#ff0000"/>
<rect x="685" y="372" width="1" height="24" fill="#ff0000"/>
<rect x="683" y="390" width="4" height="6" fill="#ff0000"/>
<rect x="692" y="387" width="1" height="0" fill="#008000"/>
<rect x="692" y="396" width="1" height="31" fill="#008000"/>
<rect x="690.5" y="387.5" width="4" height="8" fill="#fff" fill-opacity="0" stroke="#008000" stroke-width="1"/>
<rect x="699" y="358" width="1" height="3" fill="#008000"/>
<rect x="699" y="376" width="1" height="2" fill="#008000"/>
<rect x="697.5" y="361.5" width="4" height="14" fill="#fff" fill-opacity="0" stroke="#008000" stroke-width="1"/>
<rect x="706" y="344" width="1" height="39" fill="#ff0000"/>
<rect x="704" y="348" width="4" height="28" fill="#ff0000"/>
<rect x="714" y="361" width="1" height="29" fill="#ff0000"/>
<rect x="712" y="380" width="5" height="1" fill="#ff0000"/>
<rect x="721" y="353" width="1" height="0" fill="#008000"/>
<rect x="721" y="381" width="1" height="14" fill="#008000"/>
<rect x="719.5" y="353.5" width="4" height="27" fill="#fff" fill-opacity="0" stroke="#008000" stroke-width="1"/>
<rect x="728" y="364" width="1" height="100" fill="#ff0000"/>
<rect x="726" y="367" width="4" height="75" fill="#ff0000"/>
<rect x="735" y="446" width="1" height="55" fill="#ff0000"/>
<rect x="733" y="455" width="4" height="46" fill="#ff0000"/>
<rect x="742" y="483" width="1" height="36" fill="#ff0000"/>
<rect x="740" y="493" width="4" height="8" fill="#ff0000"/>
<rect x="749" y="479" width="1" height="0" fill="#008000"/>
<rect x="749" y="496" width="1" height="18" fill="#008000"/>
<rect x="747.5" y="479.5" width="4" height="16" fill="#fff" fill-opacity="0" stroke="#008000" stroke-width="1"/>
<rect x="757" y="466" width="1" height="40" fill="#ff0000"/>
<rect x="755" y="473" width="4" height="23" fill="#ff0000"/>
<rect x="764" y="472" width="1" height="0" fill="#008000"/>
<rect x="764" y="507" width="1" height="19" fill="#008000"/>
<rect x="762.5" y="472.5" width="4" height="34" fill="#fff" fill-opacity="0" stroke="#008000" stroke-width="1"/>
<rect x="771" y="440" width="1" height="4" fill="#008000"/>
<rect x="771" y="452" width="1" height="9" fill="#008000"/>
<rect x="769.5" y="444.5" width="4" height="7" fill="#fff" fill-opacity="0" stroke="#008000" stroke-width="1"/>
<rect x="778" y="428" width="1" height="20" fill="#008000"/>
<rect x="776" y="436" width="5" height="2" fill="#008000"/>
<rect x="785" y="424" width="1" height="8" fill="#008000"/>
<rect x="785" y="443" width="1" height="0" fill="#008000"/>
<rect x="783.5" y="432.5" width="4" height="10" fill="#fff" fill-opacity="0" stroke="#008000" stroke-width="1"/>
<rect x="792" y="404" width="1" height="4" fill="#008000"/>
<rect x="792" y="420" width="1" height="1" fill="#008000"/>
<rect x="790.5" y="408.5" width="4" height="11" fill="#fff" fill-opacity="0" stroke="#008000" stroke-width="1"/>
<rect x="800" y="394" width="1" height="26" fill="#ff0000"/>
<rect x="798" y="404" width="4" height="14" fill="#ff0000"/>
<rect x="807" y="412" width="1" height="31" fill="#ff0000"/>
<rect x="805" y="414" width="4" height="20" fill="#ff0000"/>
<rect x="814" y="410" width="1" height="3" fill="#008000"/>
<rect x="814" y="434" width="1" height="0" fill="#008000"/>
<rect x="812.5" y="413.5" width="4" height="20" fill="#fff" fill-opacity="0" stroke="#008000" stroke-width="1"/>
<rect x="821" y="400" width="1" height="11" fill="#008000"/>
<rect x="819" y="404" width="4" height="7" fill="#008000"/>
<rect x="828" y="400" width="1" height="19" fill="#ff0000"/>
<rect x="826" y="406" width="4" height="13" fill="#ff0000"/>
<rect x="835" y="403" width="1" height="23" fill="#ff0000"/>
<rect x="833" y="415" width="4" height="7" fill="#ff0000"/>
<rect x="843" y="406" width="1" height="3" fill="#008000"/>
<rect x="843" y="424" width="1" height="6" fill="#008000"/>
<rect x="841.5" y="409.5" width="4" height="14" fill="#fff" fill-opacity="0" stroke="#008000" stroke-width="1"/>
<rect x="850" y="395" width="1" height="23" fill="#008000"/>
<rect x="848" y="399" width="4" height="11" fill="#008000"/>
<rect x="857" y="389" width="1" height="7" fill="#008000"/>
<rect x="857" y="406" width="1" height="0" fill="#008000"/>
<rect x="855.5" y="396.5" width="4" height="9" fill="#fff" fill-opacity="0" stroke="#008000" stroke-width="1"/>
<rect x="864" y="370" width="1" height="33" fill="#ff0000"/>
<rect x="862" y="381" width="4" height="20" fill="#ff0000"/>
<rect x="871" y="408" width="1" height="14" fill="#ff0000"/>
<rect x="871" y="428" width="1" height="22" fill="#ff0000"/>
<rect x="869.5" y="422.5" width="4" height="5" fill="#fff" fill-opacity="0" stroke="#ff0000" stroke-width="1"/>
<rect x="878" y="400" width="1" height="0" fill="#008000"/>
<rect x="878" y="414" width="1" height="13" fill="#008000"/>
<rect x="876.5" y="400.5" width="4" height="13" fill="#fff" fill-opacity="0" stroke="#008000" stroke-width="1"/>
<rect x="886" y="380" width="1" height="20" fill="#008000"/>
<rect x="884" y="387" width="4" height="10" fill="#008000"/>
<rect x="893" y="388" width="1" height="17" fill="#ff0000"/>
<rect x="891" y="393" width="4" height="7" fill="#ff0000"/>
<rect x="900" y="393" width="1" height="57" fill="#ff0000"/>
<rect x="898" y="395" width="4" height="55" fill="#ff0000"/>
<rect x="907" y="419" width="1" height="3" fill="#008000"/>
<rect x="907" y="459" width="1" height="7" fill="#008000"/>
<rect x="905.5" y="422.5" width="4" height="36" fill="#fff" fill-opacity="0" stroke="#008000" stroke-width="1"/>
<rect x="914" y="419" width="1" height="24" fill="#ff0000"/>
<rect x="912" y="422" width="5" height="2" fill="#ff0000"/>
<rect x="922" y="403" width="1" height="15" fill="#008000"/>
<rect x="920" y="417" width="5" height="2" fill="#008000"/>
<rect x="929" y="413" width="1" height="21" fill="#ff0000"/>
<rect x="927" y="422" width="4" height="9" fill="#ff0000"/>
<rect x="936" y="406" width="1" height="16" fill="#008000"/>
<rect x="936" y="426" width="1" height="7" fill="#008000"/>
<rect x="934.5" y="422.5" width="4" height="3" fill="#fff" fill-opacity="0" stroke="#008000" stroke-width="1"/>
<rect x="943" y="392" width="1" height="0" fill="#008000"/>
<rect x="943" y="411" width="1" height="2" fill="#008000"/>
<rect x="941.5" y="392.5" width="4" height="18" fill="#fff" fill-opacity="0" stroke="#008000" stroke-width="1"/>
<rect x="950" y="376" width="1" height="0" fill="#008000"/>
<rect x="950" y="382" width="1" height="8" fill="#008000"/>
<rect x="948.5" y="376.5" width="4" height="5" fill="#fff" fill-opacity="0" stroke="#008000" stroke-width="1"/>
<rect x="957" y="367" width="1" height="13" fill="#008000"/>
<rect x="955" y="370" width="5" height="2" fill="#008000"/>
<rect x="965" y="358" width="1" height="0" fill="#008000"/>
<rect x="965" y="370" width="1" height="0" fill="#008000"/>
<rect x="963.5" y="358.5" width="4" height="11" fill="#fff" fill-opacity="0" stroke="#008000" stroke-width="1"/>
<rect x="972" y="315" width="1" height="1" fill="#008000"/>
<rect x="972" y="348" width="1" height="0" fill="#008000"/>
<rect x="970.5" y="316.5" width="4" height="31" fill="#fff" fill-opacity="0" stroke="#008000" stroke-width="1"/>
<rect x="979" y="303" width="1" height="22" fill="#008000"/>
<rect x="977" y="309" width="4" height="6" fill="#008000"/>
<rect x="986" y="303" width="1" height="22" fill="#ff0000"/>
<rect x="984" y="310" width="4" height="10" fill="#ff0000"/>
<rect x="993" y="307" width="1" height="19" fill="#ff0000"/>
<rect x="991" y="319" width="4" height="2" fill="#ff0000"/>
<rect x="1000" y="306" width="1" height="22" fill="#008000"/>
<rect x="998" y="314" width="4" height="6" fill="#008000"/>
<rect x="1008" y="299" width="1" height="23" fill="#008000"/>
<rect x="1006" y="313" width="5" height="1" fill="#008000"/>
<rect x="1015" y="306" width="1" height="20" fill="#ff0000"/>
<rect x="1013" y="315" width="5" height="1" fill="#ff0000"/>
<rect x="1022" y="301" width="1" height="50" fill="#ff0000"/>
<rect x="1020" y="309" width="4" height="9" fill="#ff0000"/>
<rect x="1029" y="308" width="1" height="26" fill="#ff0000"/>
<rect x="1027" y="310" width="4" height="24" fill="#ff0000"/>
<rect x="1036" y="317" width="1" height="15" fill="#008000"/>
<rect x="1034" y="325" width="5" height="2" fill="#008000"/>
<rect x="1043" y="313" width="1" height="20" fill="#ff0000"/>
<rect x="1041" y="314" width="4" height="19" fill="#ff0000"/>
<rect x="1051" y="318" width="1" height="4" fill="#008000"/>
<rect x="1051" y="335" width="1" height="12" fill="#008000"/>
<rect x="1049.5" y="322.5" width="4" height="12" fill="#fff" fill-opacity="0" stroke="#008000" stroke-width="1"/>
<rect x="1058" y="260" width="1" height="0" fill="#008000"/>
<rect x="1058" y="309" width="1" height="3" fill="#008000"/>
<rect x="1056.5" y="260.5" width="4" height="48" fill="#fff" fill-opacity="0" stroke="#008000" stroke-width="1"/>
<rect x="1065" y="226" width="1" height="5" fill="#008000"/>
<rect x="1065" y="251" width="1" height="14" fill="#008000"/>
<rect x="1063.5" y="231.5" width="4" height="19" fill="#fff" fill-opacity="0" stroke="#008000" stroke-width="1"/>
<rect x="1072" y="213" width="1" height="6" fill="#008000"/>
<rect x="1072" y="229" width="1" height="13" fill="#008000"/>
<rect x="1070.5" y="219.5" width="4" height="9" fill="#fff" fill-opacity="0" stroke="#008000" stroke-width="1"/>
<rect x="1079" y="205" width="1" height="31" fill="#ff0000"/>
<rect x="1077" y="210" width="4" height="19" fill="#ff0000"/>
<rect x="1086" y="203" width="1" height="0" fill="#008000"/>
<rect x="1086" y="229" width="1" height="1" fill="#008000"/>
<rect x="1084.5" y="203.5" width="4" height="25" fill="#fff" fill-opacity="0" stroke="#008000" stroke-width="1"/>
<rect x="1094" y="182" width="1" height="44" fill="#ff0000"/>
<rect x="1092" y="192" width="4" height="28" fill="#ff0000"/>
<rect x="1101" y="204" width="1" height="7" fill="#008000"/>
<rect x="1101" y="223" width="1" height="12" fill="#008000"/>
<rect x="1099.5" y="211.5" width="4" height="11" fill="#fff" fill-opacity="0" stroke="#008000" stroke-width="1"/>
<rect x="1108" y="189" width="1" height="6" fill="#008000"/>
<rect x="1108" y="208" width="1" height="11" fill="#008000"/>
<rect x="1106.5" y="195.5" width="4" height="12" fill="#fff" fill-opacity="0" stroke="#008000" stroke-width="1"/>
<rect x="1115" y="168" width="1" height="6" fill="#008000"/>
<rect x="1115" y="186" width="1" height="9" fill="#008000"/>
<rect x="1113.5" y="174.5" width="4" height="11" fill="#fff" fill-opacity="0" stroke="#008000" stroke-width="1"/>
<rect x="1122" y="161" width="1" height="32" fill="#ff0000"/>
<rect x="1120" y="171" width="4" height="16" fill="#ff0000"/>
<rect x="1129" y="169" width="1" height="24" fill="#008000"/>
<rect x="1127" y="179" width="5" height="1" fill="#008000"/>
<rect x="1137" y="164" width="1" height="46" fill="#ff0000"/>
<rect x="1135" y="172" width="4" height="13" fill="#ff0000"/>
<rect x="1144" y="160" width="1" height="3" fill="#008000"/>
<rect x="1144" y="181" width="1" height="21" fill="#008000"/>
<rect x="1142.5" y="163.5" width="4" height="17" fill="#fff" fill-opacity="0" stroke="#008000" stroke-width="1"/>
<rect x="1151" y="146" width="1" height="31" fill="#008000"/>
<rect x="1149" y="148" width="4" height="10" fill="#008000"/>
<rect x="1158" y="156" width="1" height="34" fill="#ff0000"/>
<rect x="1156" y="165" width="4" height="12" fill="#ff0000"/>
<rect x="1165" y="156" width="1" height="2" fill="#008000"/>
<rect x="1165" y="176" width="1" height="3" fill="#008000"/>
<rect x="1163.5" y="158.5" width="4" height="17" fill="#fff" fill-opacity="0" stroke="#008000" stroke-width="1"/>
<rect x="1172" y="145" width="1" height="26" fill="#ff0000"/>
<rect x="1170" y="152" width="4" height="19" fill="#ff0000"/>
<rect x="1180" y="147" width="1" height="89" fill="#ff0000"/>
<rect x="1178" y="162" width="4" height="42" fill="#ff0000"/>
<rect x="1187" y="176" width="1" height="46" fill="#ff0000"/>
<rect x="1185" y="203" width="4" height="11" fill="#ff0000"/>
<rect x="1194" y="182" width="1" height="0" fill="#008000"/>
<rect x="1194" y="223" width="1" height="7" fill="#008000"/>
<rect x="1192.5" y="182.5" width="4" height="40" fill="#fff" fill-opacity="0" stroke="#008000" stroke-width="1"/>
<rect x="1201" y="129" width="1" height="4" fill="#008000"/>
<rect x="1201" y="168" width="1" height="7" fill="#008000"/>
<rect x="1199.5" y="133.5" width="4" height="34" fill="#fff" fill-opacity="0" stroke="#008000" stroke-width="1"/>
<rect x="1208" y="101" width="1" height="9" fill="#008000"/>
<rect x="1208" y="118" width="1" height="12" fill="#008000"/>
<rect x="1206.5" y="110.5" width="4" height="7" fill="#fff" fill-opacity="0" stroke="#008000" stroke-width="1"/>
<rect x="1215" y="90" width="1" height="43" fill="#ff0000"/>
<rect x="1213" y="100" width="4" height="26" fill="#ff0000"/>
<rect x="1223" y="133" width="1" height="8" fill="#ff0000"/>
<rect x="1223" y="179" width="1" height="0" fill="#ff0000"/>
<rect x="1221.5" y="141.5" width="4" height="37" fill="#fff" fill-opacity="0" stroke="#ff0000" stroke-width="1"/>
<rect x="1230" y="106" width="1" height="60" fill="#ff0000"/>
<rect x="1228" y="118" width="4" height="35" fill="#ff0000"/>
<rect x="1237" y="135" width="1" height="6" fill="#008000"/>
<rect x="1237" y="156" width="1" height="11" fill="#008000"/>
<rect x="1235.5" y="141.5" width="4" height="14" fill="#fff" fill-opacity="0" stroke="#008000" stroke-width="1"/>
<rect x="1244" y="123" width="1" height="23" fill="#ff0000"/>
<rect x="1242" y="134" width="4" height="12" fill="#ff0000"/>
<rect x="1251" y="128" width="1" height="94" fill="#ff0000"/>
<rect x="1249" y="133" width="4" height="89" fill="#ff0000"/>
<rect x="1258" y="203" width="1" height="98" fill="#ff0000"/>
<rect x="1256" y="217" width="4" height="61" fill="#ff0000"/>
<rect x="1266" y="214" width="1" height="0" fill="#008000"/>
<rect x="1266" y="254" width="1" height="9" fill="#008000"/>
<rect x="1264.5" y="214.5" width="4" height="39" fill="#fff" fill-opacity="0" stroke="#008000" stroke-width="1"/>
<rect x="1273" y="189" width="1" height="13" fill="#008000"/>
<rect x="1273" y="205" width="1" height="7" fill="#008000"/>
<rect x="1271.5" y="202.5" width="4" height="2" fill="#fff" fill-opacity="0" stroke="#008000" stroke-width="1"/>
<rect x="1280" y="173" width="1" height="0" fill="#008000"/>
<rect x="1280" y="214" width="1" height="0" fill="#008000"/>
<rect x="1278.5" y="173.5" width="4" height="40" fill="#fff" fill-opacity="0" stroke="#008000" stroke-width="1"/>
<rect x="1287" y="158" width="1" height="25" fill="#ff0000"/>
<rect x="1285" y="171" width="4" height="12" fill="#ff0000"/>
<rect x="1294" y="147" width="1" height="10" fill="#008000"/>
<rect x="1294" y="166" width="1" height="3" fill="#008000"/>
<rect x="1292.5" y="157.5" width="4" height="8" fill="#fff" fill-opacity="0" stroke="#008000" stroke-width="1"/>
<rect x="1302" y="140" width="1" height="30" fill="#ff0000"/>
<rect x="1300" y="156" width="5" height="2" fill="#ff0000"/>
<rect x="1309" y="145" width="1" height="28" fill="#ff0000"/>
<rect x="1307" y="158" width="5" height="2" fill="#ff0000"/>
<rect x="1316" y="146" width="1" height="25" fill="#008000"/>
<rect x="1314" y="148" width="4" height="10" fill="#008000"/>
</g>
<rect x="480.5" y="278.5" width="19.0" height="27.0" fill="#008000" fill-opacity="0.5" stroke="#008000" stroke-width="1"/>
<rect x="603.5" y="509.5" width="16.0" height="22.0" fill="#008000" fill-opacity="0.5" stroke="#008000" stroke-width="1"/>
<rect x="1045.5" y="256.5" width="29.0" height="55.0" fill="#008000" fill-opacity="0.5" stroke="#008000" stroke-width="1"/>
<rect x="1276.5" y="168.5" width="10.0" height="52.0" fill="#008000" fill-opacity="0.5" stroke="#008000" stroke-width="1"/>
<rect x="1289.5" y="134.5" width="26.0" height="28.0" fill="#008000" fill-opacity="0.5" stroke="#008000" stroke-width="1"/>
<polygon fill="#008000" points="619.0,527.3 621.0,543.6 624.2,537.9 647.4,567.3 651.4,564.1 628.1,534.8 634.4,533.0"/>
<polygon fill="#008000" points="1317.3,140.2 1331.5,148.4 1328.9,142.4 1356.9,141.8 1356.7,136.8 1328.7,137.4 1331.1,131.4"/>
<polygon fill="#008000" points="1280.6,191.3 1289.8,203.5 1289.5,197.5 1301.4,202.1 1303.2,197.5 1291.3,192.8 1295.6,188.6"/>
</g>
<text x="640.5" y="291.8" fill="#000" textLength="155.0" lengthAdjust="spacing" stroke="#000" stroke-width="0.2">MẪU HÌNH CỐC TAY CẦM CỦA</text>
<text x="640.5" y="308.8" fill="#000" textLength="46.0" lengthAdjust="spacing" stroke="#000" stroke-width="0.2">VNINDEX</text>
<text x="1126.5" y="85.1" fill="#000" textLength="172.0" lengthAdjust="spacing" stroke="#000" stroke-width="0.2">MẪU HÌNH ĐẢO CHIỀU DIAMOND</text>
<text x="1126.5" y="101.8" fill="#000" textLength="21.0" lengthAdjust="spacing" stroke="#000" stroke-width="0.2">TOP</text>
<text x="1365.4" y="143.9" fill="#000" textLength="166.5" lengthAdjust="spacing" stroke="#000" stroke-width="0.2">Thất bại vượt qua đỉnh cao nhất</text>
<text x="1365.4" y="160.8" fill="#000" textLength="185.0" lengthAdjust="spacing" stroke="#000" stroke-width="0.2">(kháng cự) 1491 của ngày 3/12/2021.</text>
<text x="1313.6" y="212.7" fill="#000" textLength="61.0" lengthAdjust="spacing" stroke="#000" stroke-width="0.2">No Demand</text>
<text x="994.5" y="296.6" fill="#000" textLength="46.5" lengthAdjust="spacing" stroke="#000" stroke-width="0.2">Breakout</text>
<text x="1053.9" y="322.7" fill="#000" textLength="37.5" lengthAdjust="spacing" stroke="#000" stroke-width="0.2">Gap Up</text>
<text x="959.6" y="357.7" fill="#000" textLength="38.0" lengthAdjust="spacing" stroke="#000" stroke-width="0.2">Gap Up</text>
<text x="979.4" y="386.7" fill="#ff00ff" textLength="56.6" lengthAdjust="spacing">pivot=1366</text>
<text x="1140.6" y="309.1" fill="#ff00ff" textLength="55.3" lengthAdjust="spacing">pivot=1401</text>
<text x="1042.9" y="418.0" fill="#000" textLength="106.7" lengthAdjust="spacing" stroke="#000" stroke-width="0.2">TAM GIÁC ĐỐI XỨNG</text>
<text x="643.4" y="587.8" fill="#008000" textLength="19.0" lengthAdjust="spacing">FTD</text>
<text x="698.5" y="329.2" fill="#000">B</text>
<text x="769.2" y="564.0" fill="#000">C</text>
<text x="864.0" y="364.6" fill="#000">D</text>
<text x="908.9" y="500.4" fill="#000">E</text>
<text x="463.5" y="226.5" fill="#008000" font-size="12" textLength="17.0" lengthAdjust="spacing" font-family='"Liberation Serif", serif'>(3)</text>
<text x="825.0" y="568.0" fill="#008000" font-size="12" textLength="17.0" lengthAdjust="spacing" font-family='"Liberation Serif", serif'>(4)</text>
<rect x="1781" y="633" width="3" height="1" fill="#222"/>
<text x="1789.8" y="637.1" fill="#222" textLength="38.0" lengthAdjust="spacing">1230.00</text>
<rect x="1781" y="613" width="3" height="1" fill="#222"/>
<text x="1789.8" y="617.8" fill="#222" textLength="38.0" lengthAdjust="spacing">1240.00</text>
<rect x="1781" y="594" width="3" height="1" fill="#222"/>
<text x="1789.8" y="598.5" fill="#222" textLength="38.0" lengthAdjust="spacing">1250.00</text>
<rect x="1781" y="575" width="3" height="1" fill="#222"/>
<text x="1789.8" y="579.2" fill="#222" textLength="38.0" lengthAdjust="spacing">1260.00</text>
<rect x="1781" y="555" width="3" height="1" fill="#222"/>
<text x="1789.8" y="559.9" fill="#222" textLength="38.0" lengthAdjust="spacing">1270.00</text>
<rect x="1781" y="536" width="3" height="1" fill="#222"/>
<text x="1789.8" y="540.6" fill="#222" textLength="38.0" lengthAdjust="spacing">1280.00</text>
<rect x="1781" y="517" width="3" height="1" fill="#222"/>
<text x="1789.8" y="521.3" fill="#222" textLength="38.0" lengthAdjust="spacing">1290.00</text>
<rect x="1781" y="498" width="7" height="1" fill="#222"/>
<text x="1789.8" y="502.0" fill="#222" textLength="38.0" lengthAdjust="spacing">1300.00</text>
<rect x="1781" y="478" width="3" height="1" fill="#222"/>
<text x="1789.8" y="482.7" fill="#222" textLength="38.0" lengthAdjust="spacing">1310.00</text>
<rect x="1781" y="459" width="3" height="1" fill="#222"/>
<text x="1789.8" y="463.4" fill="#222" textLength="38.0" lengthAdjust="spacing">1320.00</text>
<rect x="1781" y="440" width="3" height="1" fill="#222"/>
<text x="1789.8" y="444.1" fill="#222" textLength="38.0" lengthAdjust="spacing">1330.00</text>
<rect x="1781" y="420" width="3" height="1" fill="#222"/>
<text x="1789.8" y="424.8" fill="#222" textLength="38.0" lengthAdjust="spacing">1340.00</text>
<rect x="1781" y="401" width="3" height="1" fill="#222"/>
<text x="1789.8" y="405.5" fill="#222" textLength="38.0" lengthAdjust="spacing">1350.00</text>
<rect x="1781" y="382" width="3" height="1" fill="#222"/>
<text x="1789.8" y="386.2" fill="#222" textLength="38.0" lengthAdjust="spacing">1360.00</text>
<rect x="1781" y="362" width="3" height="1" fill="#222"/>
<text x="1789.8" y="367.0" fill="#222" textLength="38.0" lengthAdjust="spacing">1370.00</text>
<rect x="1781" y="343" width="3" height="1" fill="#222"/>
<text x="1789.8" y="347.7" fill="#222" textLength="38.0" lengthAdjust="spacing">1380.00</text>
<rect x="1781" y="324" width="3" height="1" fill="#222"/>
<text x="1789.8" y="328.4" fill="#222" textLength="38.0" lengthAdjust="spacing">1390.00</text>
<rect x="1781" y="305" width="7" height="1" fill="#222"/>
<text x="1789.8" y="309.1" fill="#222" textLength="38.0" lengthAdjust="spacing">1400.00</text>
<rect x="1781" y="285" width="3" height="1" fill="#222"/>
<text x="1789.8" y="289.8" fill="#222" textLength="38.0" lengthAdjust="spacing">1410.00</text>
<rect x="1781" y="266" width="3" height="1" fill="#222"/>
<text x="1789.8" y="270.5" fill="#222" textLength="38.0" lengthAdjust="spacing">1420.00</text>
<rect x="1781" y="247" width="3" height="1" fill="#222"/>
<text x="1789.8" y="251.2" fill="#222" textLength="38.0" lengthAdjust="spacing">1430.00</text>
<rect x="1781" y="227" width="3" height="1" fill="#222"/>
<text x="1789.8" y="231.9" fill="#222" textLength="38.0" lengthAdjust="spacing">1440.00</text>
<rect x="1781" y="208" width="3" height="1" fill="#222"/>
<text x="1789.8" y="212.6" fill="#222" textLength="38.0" lengthAdjust="spacing">1450.00</text>
<rect x="1781" y="189" width="3" height="1" fill="#222"/>
<text x="1789.8" y="193.3" fill="#222" textLength="38.0" lengthAdjust="spacing">1460.00</text>
<rect x="1781" y="169" width="3" height="1" fill="#222"/>
<text x="1789.8" y="174.0" fill="#222" textLength="38.0" lengthAdjust="spacing">1470.00</text>
<rect x="1781" y="150" width="3" height="1" fill="#222"/>
<text x="1789.8" y="154.7" fill="#222" textLength="38.0" lengthAdjust="spacing">1480.00</text>
<rect x="1781" y="131" width="3" height="1" fill="#222"/>
<text x="1789.8" y="135.4" fill="#222" textLength="38.0" lengthAdjust="spacing">1490.00</text>
<rect x="1781" y="112" width="7" height="1" fill="#222"/>
<text x="1789.8" y="116.1" fill="#222" textLength="38.0" lengthAdjust="spacing">1500.00</text>
<rect x="1781" y="92" width="3" height="1" fill="#222"/>
<text x="1789.8" y="96.8" fill="#222" textLength="38.0" lengthAdjust="spacing">1510.00</text>
<rect x="1781" y="73" width="3" height="1" fill="#222"/>
<text x="1789.8" y="77.5" fill="#222" textLength="38.0" lengthAdjust="spacing">1520.00</text>
<rect x="1781" y="54" width="3" height="1" fill="#222"/>
<text x="1789.8" y="58.2" fill="#222" textLength="38.0" lengthAdjust="spacing">1530.00</text>
<clipPath id="c1540"><rect x="1781" y="36" width="60" height="10"/></clipPath>
<text x="1789.8" y="38.9" fill="#222" textLength="38.0" lengthAdjust="spacing" clip-path="url(#c1540)">1540.00</text>
<rect x="1845.5" y="36.5" width="27.5" height="26.5" rx="2" fill="#fff" stroke="#d0d0d0" stroke-width="1"/>
<g transform="translate(1850.0,39.5)" fill="#666"><path d="M3.2 9 V6.4 a5.8 5.8 0 0 1 11.6 0 V9 h-2.6 V6.6 a3.2 3.2 0 0 0 -6.4 0 V9 Z"/><rect x="0.5" y="8.8" width="17" height="11.2" rx="1.6"/><path d="M9 11.6 a1.5 1.5 0 0 1 0.9 2.7 l0.5 2.6 h-2.8 l0.5 -2.6 a1.5 1.5 0 0 1 0.9 -2.7z" fill="#fff"/></g>
<rect x="1845.5" y="649.5" width="27.5" height="26.5" rx="2" fill="#fff" stroke="#d0d0d0" stroke-width="1"/>
<g transform="translate(1850.0,652.5)" fill="#666"><path d="M3.2 9 V6.4 a5.8 5.8 0 0 1 11.6 0 V9 h-2.6 V6.6 a3.2 3.2 0 0 0 -6.4 0 V9 Z"/><rect x="0.5" y="8.8" width="17" height="11.2" rx="1.6"/><path d="M9 11.6 a1.5 1.5 0 0 1 0.9 2.7 l0.5 2.6 h-2.8 l0.5 -2.6 a1.5 1.5 0 0 1 0.9 -2.7z" fill="#fff"/></g>
<rect x="1861.5" y="435" width="12" height="29" rx="2" fill="#fff" stroke="#c9c9c9" stroke-width="1"/>
<path d="M1870 445.5 L1865.3 450 L1870 454.5" fill="none" stroke="#555" stroke-width="2.4"/>
<g shape-rendering="crispEdges">
<rect x="11" y="712" width="1" height="46" fill="#008000"/>
<rect x="18" y="714" width="1" height="44" fill="#008000"/>
<rect x="25" y="716" width="1" height="42" fill="#008000"/>
<rect x="32" y="718" width="1" height="40" fill="#008000"/>
<rect x="40" y="716" width="1" height="42" fill="#008000"/>
<rect x="47" y="715" width="1" height="43" fill="#008000"/>
<rect x="54" y="714" width="1" height="44" fill="#008000"/>
<rect x="61" y="716" width="1" height="42" fill="#ff0000"/>
<rect x="68" y="715" width="1" height="43" fill="#ff0000"/>
<rect x="75" y="702" width="1" height="56" fill="#008000"/>
<rect x="83" y="694" width="1" height="64" fill="#ff0000"/>
<rect x="90" y="705" width="1" height="53" fill="#008000"/>
<rect x="97" y="707" width="1" height="51" fill="#ff0000"/>
<rect x="104" y="696" width="1" height="62" fill="#ff0000"/>
<rect x="111" y="707" width="1" height="51" fill="#008000"/>
<rect x="118" y="706" width="1" height="52" fill="#008000"/>
<rect x="126" y="710" width="1" height="48" fill="#ff0000"/>
<rect x="133" y="713" width="1" height="45" fill="#008000"/>
<rect x="140" y="713" width="1" height="45" fill="#ff0000"/>
<rect x="147" y="722" width="1" height="36" fill="#008000"/>
<rect x="154" y="719" width="1" height="39" fill="#008000"/>
<rect x="161" y="718" width="1" height="40" fill="#008000"/>
<rect x="169" y="711" width="1" height="47" fill="#008000"/>
<rect x="176" y="713" width="1" height="45" fill="#008000"/>
<rect x="183" y="714" width="1" height="44" fill="#ff0000"/>
<rect x="190" y="709" width="1" height="49" fill="#ff0000"/>
<rect x="197" y="710" width="1" height="48" fill="#008000"/>
<rect x="205" y="711" width="1" height="47" fill="#ff0000"/>
<rect x="212" y="714" width="1" height="44" fill="#008000"/>
<rect x="219" y="713" width="1" height="45" fill="#ff0000"/>
<rect x="226" y="713" width="1" height="45" fill="#008000"/>
<rect x="233" y="712" width="1" height="46" fill="#ff0000"/>
<rect x="240" y="715" width="1" height="43" fill="#ff0000"/>
<rect x="248" y="715" width="1" height="43" fill="#008000"/>
<rect x="255" y="711" width="1" height="47" fill="#008000"/>
<rect x="262" y="715" width="1" height="43" fill="#008000"/>
<rect x="269" y="714" width="1" height="44" fill="#008000"/>
<rect x="276" y="716" width="1" height="42" fill="#008000"/>
<rect x="283" y="714" width="1" height="44" fill="#008000"/>
<rect x="291" y="713" width="1" height="45" fill="#ff0000"/>
<rect x="298" y="711" width="1" height="47" fill="#008000"/>
<rect x="305" y="712" width="1" height="46" fill="#008000"/>
<rect x="312" y="718" width="1" height="40" fill="#008000"/>
<rect x="319" y="708" width="1" height="50" fill="#008000"/>
<rect x="326" y="702" width="1" height="56" fill="#008000"/>
<rect x="334" y="700" width="1" height="58" fill="#008000"/>
<rect x="341" y="703" width="1" height="55" fill="#ff0000"/>
<rect x="348" y="701" width="1" height="57" fill="#ff0000"/>
<rect x="355" y="708" width="1" height="50" fill="#008000"/>
<rect x="362" y="714" width="1" height="44" fill="#ff0000"/>
<rect x="369" y="712" width="1" height="46" fill="#008000"/>
<rect x="377" y="711" width="1" height="47" fill="#008000"/>
<rect x="384" y="711" width="1" height="47" fill="#008000"/>
<rect x="391" y="709" width="1" height="49" fill="#ff0000"/>
<rect x="398" y="711" width="1" height="47" fill="#008000"/>
<rect x="405" y="709" width="1" height="49" fill="#008000"/>
<rect x="412" y="711" width="1" height="47" fill="#ff0000"/>
<rect x="420" y="712" width="1" height="46" fill="#008000"/>
<rect x="427" y="716" width="1" height="42" fill="#ff0000"/>
<rect x="434" y="722" width="1" height="36" fill="#008000"/>
<rect x="441" y="724" width="1" height="34" fill="#008000"/>
<rect x="448" y="715" width="1" height="43" fill="#008000"/>
<rect x="455" y="718" width="1" height="40" fill="#008000"/>
<rect x="463" y="723" width="1" height="35" fill="#ff0000"/>
<rect x="470" y="713" width="1" height="45" fill="#008000"/>
<rect x="477" y="715" width="1" height="43" fill="#008000"/>
<rect x="484" y="707" width="1" height="51" fill="#ff0000"/>
<rect x="491" y="707" width="1" height="51" fill="#ff0000"/>
<rect x="498" y="710" width="1" height="48" fill="#008000"/>
<rect x="506" y="723" width="1" height="35" fill="#ff0000"/>
<rect x="513" y="711" width="1" height="47" fill="#ff0000"/>
<rect x="520" y="698" width="1" height="60" fill="#ff0000"/>
<rect x="527" y="725" width="1" height="33" fill="#008000"/>
<rect x="534" y="722" width="1" height="36" fill="#ff0000"/>
<rect x="541" y="730" width="1" height="28" fill="#008000"/>
<rect x="549" y="730" width="1" height="28" fill="#008000"/>
<rect x="556" y="714" width="1" height="44" fill="#ff0000"/>
<rect x="563" y="722" width="1" height="36" fill="#008000"/>
<rect x="570" y="732" width="1" height="26" fill="#ff0000"/>
<rect x="577" y="725" width="1" height="33" fill="#008000"/>
<rect x="585" y="722" width="1" height="36" fill="#ff0000"/>
<rect x="592" y="727" width="1" height="31" fill="#008000"/>
<rect x="599" y="724" width="1" height="34" fill="#008000"/>
<rect x="606" y="734" width="1" height="24" fill="#008000"/>
<rect x="613" y="728" width="1" height="30" fill="#008000"/>
<rect x="620" y="717" width="1" height="41" fill="#008000"/>
<rect x="628" y="719" width="1" height="39" fill="#008000"/>
<rect x="635" y="717" width="1" height="41" fill="#008000"/>
<rect x="642" y="717" width="1" height="41" fill="#008000"/>
<rect x="649" y="719" width="1" height="39" fill="#008000"/>
<rect x="656" y="713" width="1" height="45" fill="#ff0000"/>
<rect x="663" y="716" width="1" height="42" fill="#008000"/>
<rect x="671" y="713" width="1" height="45" fill="#008000"/>
<rect x="678" y="708" width="1" height="50" fill="#ff0000"/>
<rect x="685" y="711" width="1" height="47" fill="#ff0000"/>
<rect x="692" y="711" width="1" height="47" fill="#008000"/>
<rect x="699" y="706" width="1" height="52" fill="#008000"/>
<rect x="706" y="710" width="1" height="48" fill="#ff0000"/>
<rect x="714" y="717" width="1" height="41" fill="#ff0000"/>
<rect x="721" y="715" width="1" height="43" fill="#008000"/>
<rect x="728" y="682" width="1" height="76" fill="#ff0000"/>
<rect x="735" y="708" width="1" height="50" fill="#ff0000"/>
<rect x="742" y="715" width="1" height="43" fill="#ff0000"/>
<rect x="749" y="726" width="1" height="32" fill="#008000"/>
<rect x="757" y="725" width="1" height="33" fill="#ff0000"/>
<rect x="764" y="715" width="1" height="43" fill="#008000"/>
<rect x="771" y="716" width="1" height="42" fill="#008000"/>
<rect x="778" y="711" width="1" height="47" fill="#008000"/>
<rect x="785" y="713" width="1" height="45" fill="#008000"/>
<rect x="792" y="700" width="1" height="58" fill="#008000"/>
<rect x="800" y="702" width="1" height="56" fill="#ff0000"/>
<rect x="807" y="719" width="1" height="39" fill="#ff0000"/>
<rect x="814" y="719" width="1" height="39" fill="#008000"/>
<rect x="821" y="721" width="1" height="37" fill="#008000"/>
<rect x="828" y="709" width="1" height="49" fill="#ff0000"/>
<rect x="835" y="713" width="1" height="45" fill="#ff0000"/>
<rect x="843" y="716" width="1" height="42" fill="#008000"/>
<rect x="850" y="720" width="1" height="38" fill="#008000"/>
<rect x="857" y="705" width="1" height="53" fill="#008000"/>
<rect x="864" y="702" width="1" height="56" fill="#ff0000"/>
<rect x="871" y="705" width="1" height="53" fill="#ff0000"/>
<rect x="878" y="710" width="1" height="48" fill="#008000"/>
<rect x="886" y="695" width="1" height="63" fill="#008000"/>
<rect x="893" y="717" width="1" height="41" fill="#ff0000"/>
<rect x="900" y="711" width="1" height="47" fill="#ff0000"/>
<rect x="907" y="720" width="1" height="38" fill="#008000"/>
<rect x="914" y="721" width="1" height="37" fill="#ff0000"/>
<rect x="922" y="729" width="1" height="29" fill="#008000"/>
<rect x="929" y="718" width="1" height="40" fill="#ff0000"/>
<rect x="936" y="712" width="1" height="46" fill="#008000"/>
<rect x="943" y="720" width="1" height="38" fill="#008000"/>
<rect x="950" y="719" width="1" height="39" fill="#008000"/>
<rect x="957" y="715" width="1" height="43" fill="#008000"/>
<rect x="965" y="718" width="1" height="40" fill="#008000"/>
<rect x="972" y="711" width="1" height="47" fill="#008000"/>
<rect x="979" y="712" width="1" height="46" fill="#008000"/>
<rect x="986" y="718" width="1" height="40" fill="#ff0000"/>
<rect x="993" y="713" width="1" height="45" fill="#ff0000"/>
<rect x="1000" y="709" width="1" height="49" fill="#008000"/>
<rect x="1008" y="708" width="1" height="50" fill="#008000"/>
<rect x="1015" y="718" width="1" height="40" fill="#ff0000"/>
<rect x="1022" y="705" width="1" height="53" fill="#ff0000"/>
<rect x="1029" y="713" width="1" height="45" fill="#ff0000"/>
<rect x="1036" y="709" width="1" height="49" fill="#008000"/>
<rect x="1043" y="701" width="1" height="57" fill="#ff0000"/>
<rect x="1051" y="713" width="1" height="45" fill="#008000"/>
<rect x="1058" y="702" width="1" height="56" fill="#008000"/>
<rect x="1065" y="704" width="1" height="54" fill="#008000"/>
<rect x="1072" y="696" width="1" height="62" fill="#008000"/>
<rect x="1079" y="687" width="1" height="71" fill="#ff0000"/>
<rect x="1086" y="695" width="1" height="63" fill="#008000"/>
<rect x="1094" y="663" width="1" height="95" fill="#ff0000"/>
<rect x="1101" y="700" width="1" height="58" fill="#008000"/>
<rect x="1108" y="703" width="1" height="55" fill="#008000"/>
<rect x="1115" y="692" width="1" height="66" fill="#008000"/>
<rect x="1122" y="693" width="1" height="65" fill="#ff0000"/>
<rect x="1129" y="696" width="1" height="62" fill="#008000"/>
<rect x="1137" y="679" width="1" height="79" fill="#ff0000"/>
<rect x="1144" y="699" width="1" height="59" fill="#008000"/>
<rect x="1151" y="683" width="1" height="75" fill="#008000"/>
<rect x="1158" y="683" width="1" height="75" fill="#ff0000"/>
<rect x="1165" y="704" width="1" height="54" fill="#008000"/>
<rect x="1172" y="689" width="1" height="69" fill="#ff0000"/>
<rect x="1180" y="661" width="1" height="97" fill="#ff0000"/>
<rect x="1187" y="679" width="1" height="79" fill="#ff0000"/>
<rect x="1194" y="703" width="1" height="55" fill="#008000"/>
<rect x="1201" y="688" width="1" height="70" fill="#008000"/>
<rect x="1208" y="696" width="1" height="62" fill="#008000"/>
<rect x="1215" y="692" width="1" height="66" fill="#ff0000"/>
<rect x="1223" y="694" width="1" height="64" fill="#ff0000"/>
<rect x="1230" y="690" width="1" height="68" fill="#ff0000"/>
<rect x="1237" y="703" width="1" height="55" fill="#008000"/>
<rect x="1244" y="709" width="1" height="49" fill="#ff0000"/>
<rect x="1251" y="691" width="1" height="67" fill="#ff0000"/>
<rect x="1258" y="692" width="1" height="66" fill="#ff0000"/>
<rect x="1266" y="713" width="1" height="45" fill="#008000"/>
<rect x="1273" y="710" width="1" height="48" fill="#008000"/>
<rect x="1280" y="716" width="1" height="42" fill="#008000"/>
<rect x="1287" y="707" width="1" height="51" fill="#ff0000"/>
<rect x="1294" y="705" width="1" height="53" fill="#008000"/>
<rect x="1302" y="698" width="1" height="60" fill="#ff0000"/>
<rect x="1309" y="702" width="1" height="56" fill="#ff0000"/>
<rect x="1316" y="699" width="1" height="59" fill="#008000"/>
</g>
<polyline fill="none" stroke="#1a1a1a" stroke-width="1.4" points="9,717.1 100,717.6 184,715.1 259,713.1 334,712.6 359,711.3 434,710.1 470,712 520,711.4 560,713.1 610,715.1 660,715.6 723,716.4 773,716.9 810,715.9 920,714.6 970,712.6 1065,712.1 1095,710.6 1170,705.8 1183,704.3 1208,702.6 1245,702.1 1317,699.1"/>
<text x="14.0" y="664.5" fill="#008000" textLength="39.5" lengthAdjust="spacing">Volume</text>
<text x="57.0" y="664.5" fill="#222" textLength="184.0" lengthAdjust="spacing">&amp; 50 Period Simple Moving Average</text>
<text x="1789.5" y="663.5" fill="#222" textLength="35.0" lengthAdjust="spacing">Million</text>
<rect x="1781" y="666" width="3" height="1" fill="#222"/>
<text x="1789.5" y="670.9" fill="#222">1400</text>
<rect x="1781" y="679" width="3" height="1" fill="#222"/>
<text x="1789.5" y="683.8" fill="#222">1200</text>
<rect x="1781" y="692" width="3" height="1" fill="#222"/>
<text x="1789.5" y="696.6" fill="#222">1000</text>
<rect x="1781" y="705" width="3" height="1" fill="#222"/>
<text x="1789.5" y="709.5" fill="#222">800</text>
<rect x="1781" y="718" width="3" height="1" fill="#222"/>
<text x="1789.5" y="722.4" fill="#222">600</text>
<rect x="1781" y="731" width="3" height="1" fill="#222"/>
<text x="1789.5" y="735.3" fill="#222">400</text>
<rect x="1781" y="744" width="3" height="1" fill="#222"/>
<text x="1789.5" y="748.1" fill="#222">200</text>
<rect x="1781" y="756" width="3" height="1" fill="#222"/>
<text x="1789.5" y="761.0" fill="#222">0</text>
<rect x="1781" y="769" width="3" height="1" fill="#222"/>
<text x="1789.5" y="773.9" fill="#222">-200</text>
<rect x="1781" y="782" width="3" height="1" fill="#222"/>
<text x="1789.5" y="786.7" fill="#222">-400</text>
<rect x="1781" y="795" width="3" height="1" fill="#222"/>
<text x="1789.5" y="799.6" fill="#222">-600</text>
<rect x="1781" y="808" width="3" height="1" fill="#222"/>
<text x="1789.5" y="812.5" fill="#222">-800</text>
<text x="9.5" y="852.0" fill="#222" textLength="6.0" lengthAdjust="spacing">9</text>
<rect x="36" y="838" width="1" height="20" fill="#c9c9c9"/>
<text x="39.5" y="852.0" fill="#222" textLength="12.5" lengthAdjust="spacing">05</text>
<rect x="71" y="838" width="1" height="20" fill="#c9c9c9"/>
<text x="74.5" y="852.0" fill="#222" textLength="12.5" lengthAdjust="spacing">12</text>
<rect x="107" y="838" width="1" height="20" fill="#c9c9c9"/>
<text x="110.5" y="852.0" fill="#222" textLength="12.5" lengthAdjust="spacing">19</text>
<rect x="136" y="838" width="1" height="20" fill="#c9c9c9"/>
<text x="139.5" y="852.0" fill="#222" textLength="12.5" lengthAdjust="spacing">26</text>
<rect x="165" y="838" width="1" height="20" fill="#c9c9c9"/>
<text x="168.5" y="852.0" fill="#222" textLength="12.5" lengthAdjust="spacing">04</text>
<rect x="193" y="838" width="1" height="20" fill="#c9c9c9"/>
<text x="196.5" y="852.0" fill="#222" textLength="12.5" lengthAdjust="spacing">10</text>
<rect x="229" y="838" width="1" height="20" fill="#c9c9c9"/>
<text x="232.5" y="852.0" fill="#222" textLength="12.5" lengthAdjust="spacing">17</text>
<rect x="265" y="838" width="1" height="20" fill="#c9c9c9"/>
<text x="268.5" y="852.0" fill="#222" textLength="12.5" lengthAdjust="spacing">24</text>
<rect x="301" y="838" width="1" height="20" fill="#c9c9c9"/>
<text x="304.5" y="852.0" fill="#222" textLength="12.5" lengthAdjust="spacing">31</text>
<rect x="337" y="838" width="1" height="20" fill="#c9c9c9"/>
<text x="340.5" y="852.0" fill="#222" textLength="12.5" lengthAdjust="spacing">07</text>
<rect x="373" y="838" width="1" height="20" fill="#c9c9c9"/>
<text x="376.5" y="852.0" fill="#222" textLength="12.5" lengthAdjust="spacing">14</text>
<rect x="408" y="838" width="1" height="20" fill="#c9c9c9"/>
<text x="411.5" y="852.0" fill="#222" textLength="12.5" lengthAdjust="spacing">21</text>
<rect x="444" y="838" width="1" height="20" fill="#c9c9c9"/>
<text x="447.5" y="852.0" fill="#222" textLength="12.5" lengthAdjust="spacing">28</text>
<rect x="480" y="838" width="1" height="20" fill="#c9c9c9"/>
<text x="483.5" y="852.0" fill="#222" textLength="12.5" lengthAdjust="spacing">05</text>
<rect x="516" y="838" width="1" height="20" fill="#c9c9c9"/>
<text x="519.5" y="852.0" fill="#222" textLength="12.5" lengthAdjust="spacing">12</text>
<rect x="552" y="838" width="1" height="20" fill="#c9c9c9"/>
<text x="555.5" y="852.0" fill="#222" textLength="12.5" lengthAdjust="spacing">19</text>
<rect x="588" y="838" width="1" height="20" fill="#c9c9c9"/>
<text x="591.5" y="852.0" fill="#222" textLength="12.5" lengthAdjust="spacing">26</text>
<rect x="624" y="838" width="1" height="20" fill="#c9c9c9"/>
<text x="627.5" y="852.0" fill="#222" textLength="12.5" lengthAdjust="spacing">02</text>
<rect x="659" y="838" width="1" height="20" fill="#c9c9c9"/>
<text x="662.5" y="852.0" fill="#222" textLength="12.5" lengthAdjust="spacing">09</text>
<rect x="695" y="838" width="1" height="20" fill="#c9c9c9"/>
<text x="698.5" y="852.0" fill="#222" textLength="12.5" lengthAdjust="spacing">16</text>
<rect x="731" y="838" width="1" height="20" fill="#c9c9c9"/>
<text x="734.5" y="852.0" fill="#222" textLength="12.5" lengthAdjust="spacing">23</text>
<rect x="767" y="838" width="1" height="20" fill="#c9c9c9"/>
<text x="770.5" y="852.0" fill="#222" textLength="12.5" lengthAdjust="spacing">30</text>
<rect x="788" y="838" width="1" height="20" fill="#c9c9c9"/>
<text x="791.5" y="852.0" fill="#222" textLength="12.5" lengthAdjust="spacing">06</text>
<rect x="824" y="838" width="1" height="20" fill="#c9c9c9"/>
<text x="827.5" y="852.0" fill="#222" textLength="12.5" lengthAdjust="spacing">13</text>
<rect x="860" y="838" width="1" height="20" fill="#c9c9c9"/>
<text x="863.5" y="852.0" fill="#222" textLength="12.5" lengthAdjust="spacing">20</text>
<rect x="896" y="838" width="1" height="20" fill="#c9c9c9"/>
<text x="899.5" y="852.0" fill="#222" textLength="12.5" lengthAdjust="spacing">27</text>
<rect x="932" y="838" width="1" height="20" fill="#c9c9c9"/>
<text x="935.5" y="852.0" fill="#222" textLength="12.5" lengthAdjust="spacing">04</text>
<rect x="968" y="838" width="1" height="20" fill="#c9c9c9"/>
<text x="971.5" y="852.0" fill="#222" textLength="12.5" lengthAdjust="spacing">11</text>
<rect x="1004" y="838" width="1" height="20" fill="#c9c9c9"/>
<text x="1007.5" y="852.0" fill="#222" textLength="12.5" lengthAdjust="spacing">18</text>
<rect x="1039" y="838" width="1" height="20" fill="#c9c9c9"/>
<text x="1042.5" y="852.0" fill="#222" textLength="12.5" lengthAdjust="spacing">25</text>
<rect x="1075" y="838" width="1" height="20" fill="#c9c9c9"/>
<text x="1078.5" y="852.0" fill="#222" textLength="12.5" lengthAdjust="spacing">01</text>
<rect x="1111" y="838" width="1" height="20" fill="#c9c9c9"/>
<text x="1114.5" y="852.0" fill="#222" textLength="12.5" lengthAdjust="spacing">08</text>
<rect x="1147" y="838" width="1" height="20" fill="#c9c9c9"/>
<text x="1150.5" y="852.0" fill="#222" textLength="12.5" lengthAdjust="spacing">15</text>
<rect x="1183" y="838" width="1" height="20" fill="#c9c9c9"/>
<text x="1186.5" y="852.0" fill="#222" textLength="12.5" lengthAdjust="spacing">22</text>
<rect x="1219" y="838" width="1" height="20" fill="#c9c9c9"/>
<text x="1222.5" y="852.0" fill="#222" textLength="12.5" lengthAdjust="spacing">29</text>
<rect x="1254" y="838" width="1" height="20" fill="#c9c9c9"/>
<text x="1257.5" y="852.0" fill="#222" textLength="12.5" lengthAdjust="spacing">06</text>
<rect x="1290" y="838" width="1" height="20" fill="#c9c9c9"/>
<text x="1293.5" y="852.0" fill="#222" textLength="12.5" lengthAdjust="spacing">13</text>
<rect x="1328" y="838" width="1" height="20" fill="#c9c9c9"/>
<text x="1331.5" y="852.0" fill="#222" textLength="12.5" lengthAdjust="spacing">18</text>
<rect x="1348" y="838" width="1" height="20" fill="#c9c9c9"/>
<text x="1351.5" y="852.0" fill="#222" textLength="12.5" lengthAdjust="spacing">23</text>
<rect x="1370" y="838" width="1" height="20" fill="#c9c9c9"/>
<text x="1373.5" y="852.0" fill="#222" textLength="12.5" lengthAdjust="spacing">28</text>
<rect x="1405" y="838" width="1" height="20" fill="#c9c9c9"/>
<text x="1408.5" y="852.0" fill="#222" textLength="12.5" lengthAdjust="spacing">02</text>
<rect x="1427" y="838" width="1" height="20" fill="#c9c9c9"/>
<text x="1430.5" y="852.0" fill="#222" textLength="12.5" lengthAdjust="spacing">07</text>
<rect x="1449" y="838" width="1" height="20" fill="#c9c9c9"/>
<text x="1452.5" y="852.0" fill="#222" textLength="12.5" lengthAdjust="spacing">12</text>
<rect x="1471" y="838" width="1" height="20" fill="#c9c9c9"/>
<text x="1474.5" y="852.0" fill="#222" textLength="12.5" lengthAdjust="spacing">17</text>
<rect x="1506" y="838" width="1" height="20" fill="#c9c9c9"/>
<text x="1509.5" y="852.0" fill="#222" textLength="12.5" lengthAdjust="spacing">22</text>
<rect x="1528" y="838" width="1" height="20" fill="#c9c9c9"/>
<text x="1531.5" y="852.0" fill="#222" textLength="12.5" lengthAdjust="spacing">27</text>
<rect x="1550" y="838" width="1" height="20" fill="#c9c9c9"/>
<text x="1553.5" y="852.0" fill="#222" textLength="12.5" lengthAdjust="spacing">01</text>
<rect x="1585" y="838" width="1" height="20" fill="#c9c9c9"/>
<text x="1588.5" y="852.0" fill="#222" textLength="12.5" lengthAdjust="spacing">06</text>
<rect x="1607" y="838" width="1" height="20" fill="#c9c9c9"/>
<text x="1610.5" y="852.0" fill="#222" textLength="12.5" lengthAdjust="spacing">11</text>
<rect x="1629" y="838" width="1" height="20" fill="#c9c9c9"/>
<text x="1632.5" y="852.0" fill="#222" textLength="12.5" lengthAdjust="spacing">16</text>
<rect x="1650" y="838" width="1" height="20" fill="#c9c9c9"/>
<text x="1653.5" y="852.0" fill="#222" textLength="12.5" lengthAdjust="spacing">21</text>
<rect x="1685" y="838" width="1" height="20" fill="#c9c9c9"/>
<text x="1688.5" y="852.0" fill="#222" textLength="12.5" lengthAdjust="spacing">26</text>
<rect x="1708" y="838" width="1" height="20" fill="#c9c9c9"/>
<text x="1711.5" y="852.0" fill="#222" textLength="12.5" lengthAdjust="spacing">03</text>
<rect x="1729" y="838" width="1" height="20" fill="#c9c9c9"/>
<text x="1732.5" y="852.0" fill="#222" textLength="12.5" lengthAdjust="spacing">08</text>
<rect x="1765" y="838" width="1" height="20" fill="#c9c9c9"/>
<text x="1768.5" y="852.0" fill="#222" textLength="12.5" lengthAdjust="spacing">13</text>
<text x="9.5" y="870.5" fill="#222" textLength="12.0" lengthAdjust="spacing">21</text>
<rect x="22" y="859" width="1" height="17" fill="#c9c9c9"/>
<text x="92.2" y="870.5" fill="#222" text-anchor="middle">Apr 2021</text>
<rect x="162" y="859" width="1" height="17" fill="#c9c9c9"/>
<text x="235.3" y="870.5" fill="#222" text-anchor="middle">May 2021</text>
<rect x="308" y="859" width="1" height="17" fill="#c9c9c9"/>
<text x="387.9" y="870.5" fill="#222" text-anchor="middle">Jun 2021</text>
<rect x="466" y="859" width="1" height="17" fill="#c9c9c9"/>
<text x="545.0" y="870.5" fill="#222" text-anchor="middle">Jul 2021</text>
<rect x="622" y="859" width="1" height="17" fill="#c9c9c9"/>
<text x="703.0" y="870.5" fill="#222" text-anchor="middle">Aug 2021</text>
<rect x="782" y="859" width="1" height="17" fill="#c9c9c9"/>
<text x="854.5" y="870.5" fill="#222" text-anchor="middle">Sep 2021</text>
<rect x="926" y="859" width="1" height="17" fill="#c9c9c9"/>
<text x="1001.5" y="870.5" fill="#222" text-anchor="middle">Oct 2021</text>
<rect x="1076" y="859" width="1" height="17" fill="#c9c9c9"/>
<text x="1155.5" y="870.5" fill="#222" text-anchor="middle">Nov 2021</text>
<rect x="1234" y="859" width="1" height="17" fill="#c9c9c9"/>
<text x="1316.7" y="870.5" fill="#222" text-anchor="middle">Dec 2021</text>
<rect x="1399" y="859" width="1" height="17" fill="#c9c9c9"/>
<text x="1474.6" y="870.5" fill="#222" text-anchor="middle">Jan 2022</text>
<rect x="1550" y="859" width="1" height="17" fill="#c9c9c9"/>
<text x="1621.5" y="870.5" fill="#222" text-anchor="middle">Feb 2022</text>
<rect x="1692" y="859" width="1" height="17" fill="#c9c9c9"/>
<text x="1730.0" y="870.5" fill="#222" textLength="46.5" lengthAdjust="spacing">Mar 2022</text>
<rect x="1790.5" y="860" width="53" height="13.5" fill="#fff" stroke="#c9c9c9" stroke-width="1"/>
<clipPath id="cin"><rect x="1791" y="860" width="51.5" height="13.5"/></clipPath>
<text x="1793.5" y="871.0" fill="#222" clip-path="url(#cin)">3.71387035</text>
<text x="1847.5" y="870.0" fill="#333" font-size="7.5" textLength="9.5" lengthAdjust="spacing" font-weight="bold">XY</text>
<g fill="#333"><rect x="1861" y="865.5" width="9.5" height="7.5" rx="1"/><path d="M1864.5 866 v-2.2 a2.4 2.4 0 0 1 4.8 0 v0.7" fill="none" stroke="#333" stroke-width="1.4"/></g>
<text x="11.0" y="892.8" fill="#222" textLength="818.8" lengthAdjust="spacing">Date: Monday, April 5, 2021 Open: 1,245.28 High: 1,245.28 Low: 1,228.18 Close: 1,236.05 Range: 17.10 Volume: 635,303,488 Position: 4992 Cursor Value : 1413.23</text>
<text y="414.7" font-size="81.2" font-weight="bold"><tspan x="1469.7" textLength="42.8" lengthAdjust="spacingAndGlyphs" fill="#ee4036">E</tspan><tspan x="1518.3" textLength="17.8" lengthAdjust="spacingAndGlyphs" fill="#ee4036">l</tspan><tspan x="1533.8" textLength="17.8" lengthAdjust="spacingAndGlyphs" fill="#ee4036">i</tspan><tspan x="1553.6" textLength="57.5" lengthAdjust="spacingAndGlyphs" fill="#1c4e9d">B</tspan><tspan x="1604.3" y="414.5" font-size="77" font-weight="normal" textLength="48" lengthAdjust="spacingAndGlyphs" fill="url(#og)">o</tspan><tspan x="1653.4" y="415" font-size="80" font-weight="normal" textLength="50" lengthAdjust="spacingAndGlyphs" fill="#c2208c">o</tspan><tspan x="1700.6" y="414.7" textLength="43.1" lengthAdjust="spacingAndGlyphs" fill="#1c4e9d">k</tspan></text>
<path d="M1608.7 390.8C1608.5 392.1 1608.7 396.9 1610.0 400.2C1611.3 403.5 1613.6 407.9 1616.6 410.6C1619.6 413.3 1624.0 415.9 1627.9 416.2C1631.8 416.5 1636.8 414.7 1640.1 412.5C1643.4 410.3 1645.9 406.0 1647.6 403.1C1649.4 400.1 1650.2 396.9 1650.5 394.6C1650.8 392.3 1650.4 390.5 1649.5 389.3C1648.7 388.1 1646.7 387.3 1645.4 387.4C1644.1 387.6 1642.3 388.7 1641.6 390.1C1641.0 391.4 1641.7 393.7 1641.4 395.5C1641.1 397.4 1640.7 399.4 1639.7 401.2C1638.7 403.0 1637.4 404.9 1635.4 406.3C1633.4 407.6 1630.4 409.2 1627.9 409.3C1625.4 409.4 1622.4 408.1 1620.4 406.8C1618.3 405.6 1616.9 403.5 1615.6 401.7C1614.4 400.0 1613.7 397.7 1613.0 396.1C1612.3 394.5 1612.0 393.2 1611.3 392.3C1610.6 391.5 1608.9 389.5 1608.7 390.8Z" fill="#1c4e9d"/>
<path d="M1607.7 389.3C1607.7 388.2 1608.3 384.7 1609.6 382.4C1610.9 380.0 1612.6 377.3 1615.6 375.4C1618.7 373.4 1623.8 371.2 1627.9 370.7C1632.0 370.1 1636.8 371.0 1640.1 372.0C1643.4 373.0 1645.9 375.0 1647.6 376.7C1649.4 378.4 1650.4 380.7 1650.7 382.4C1650.9 384.0 1650.0 386.0 1649.2 386.7C1648.3 387.3 1646.9 386.9 1645.8 386.3C1644.6 385.7 1643.9 384.0 1642.4 382.9C1640.8 381.9 1638.8 380.6 1636.4 379.9C1633.9 379.2 1630.7 378.4 1627.9 378.6C1625.1 378.8 1621.8 379.9 1619.4 381.0C1617.0 382.2 1615.0 384.2 1613.4 385.6C1611.8 386.9 1610.9 388.7 1610.0 389.3C1609.1 389.9 1607.8 390.5 1607.7 389.3Z" fill="#c2208c"/>
<circle cx="1623.2" cy="399.7" r="1.7" fill="#ee4036"/><path d="M1617 405 q6.3 -6 12.8 0" stroke="#ee4036" stroke-width="1.7" fill="none"/><path d="M1618.6 409.6 q3.5 -5.2 9 -1.5 q2.5 2 4.5 2.2" stroke="#1c4e9d" stroke-width="2" fill="none"/>
<circle cx="1678.7" cy="393.6" r="17.6" fill="none" stroke="#c2208c" stroke-width="10.4"/>
<text x="1496.1" y="453.9" fill="#ff00ff" font-size="14" textLength="187.3" lengthAdjust="spacing">Liên Hệ Team NĐT CANSLIM</text>
<text x="1496.1" y="474.6" fill="#ff00ff" font-size="14" textLength="118.6" lengthAdjust="spacing">zalo 0977.697.420</text>
<text x="1496.1" y="495.3" fill="#ff00ff" font-size="14" textLength="104.5" lengthAdjust="spacing">www.elibook.vn</text>
</svg></body></html>
